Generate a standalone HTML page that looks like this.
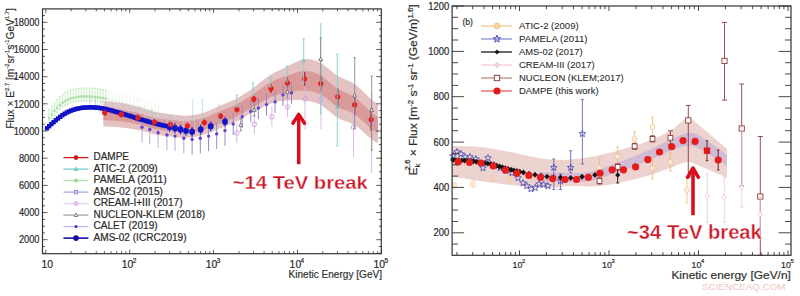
<!DOCTYPE html>
<html><head><meta charset="utf-8"><style>
html,body{margin:0;padding:0;background:#fff;}
svg{display:block;font-family:"Liberation Sans",sans-serif;}
</style></head><body>
<svg width="800" height="296" viewBox="0 0 800 296">
<rect width="800" height="296" fill="#fff"/>
<polygon points="103.3,100.8 104.7,101.0 106.3,101.2 108.1,101.4 110.2,101.6 112.3,101.9 114.6,102.1 116.8,102.4 119.1,102.7 121.2,103.1 123.3,103.4 125.4,103.8 127.5,104.3 129.6,104.7 131.7,105.2 133.8,105.7 135.9,106.2 138.0,106.8 140.1,107.3 142.1,108.0 144.2,108.7 146.2,109.3 148.3,110.0 150.3,110.7 152.4,111.2 154.4,111.7 156.4,112.2 158.4,112.6 160.5,112.9 162.5,113.2 164.5,113.5 166.5,113.8 168.5,114.1 170.6,114.3 172.7,114.6 174.8,114.8 176.9,115.1 179.0,115.3 181.1,115.5 183.3,115.7 185.4,115.7 187.5,115.7 189.6,115.5 191.7,115.3 193.8,115.0 195.9,114.6 198.0,114.2 200.1,113.7 202.2,113.1 204.3,112.5 206.4,111.8 208.4,111.0 210.4,110.1 212.4,109.3 214.4,108.3 216.4,107.4 218.5,106.5 220.5,105.6 222.5,104.7 224.6,103.9 226.6,103.0 228.7,102.2 230.8,101.3 232.8,100.4 234.9,99.4 237.0,98.3 239.1,97.1 241.2,95.9 243.3,94.5 245.4,93.2 247.5,91.8 249.7,90.4 251.8,88.8 253.9,87.2 256.0,85.7 258.2,84.0 260.3,82.3 262.5,80.7 264.6,79.0 266.8,77.5 268.9,76.0 271.0,74.6 273.1,73.4 275.2,72.3 277.2,71.3 279.2,70.4 281.3,69.4 283.3,68.3 285.4,67.3 287.5,66.3 289.6,65.2 291.8,64.1 293.9,63.0 296.1,61.9 298.3,60.9 300.5,60.0 302.6,59.3 304.7,58.9 306.8,58.9 308.8,59.1 310.8,59.4 312.8,59.9 314.8,60.5 316.7,61.3 318.8,62.1 320.8,63.1 322.9,64.4 325.0,65.9 327.1,67.5 329.2,69.3 331.3,71.1 333.5,72.9 335.6,74.5 337.7,75.9 339.8,77.0 341.9,78.1 344.1,79.0 346.2,79.9 348.3,80.7 350.4,81.7 352.5,82.8 354.6,84.2 356.8,85.8 359.0,87.7 361.3,89.8 363.5,92.0 365.7,94.1 367.7,96.1 369.6,97.8 371.2,99.3 372.6,100.4 373.7,101.3 374.8,102.0 375.6,102.6 376.4,103.0 377.0,103.4 377.5,103.7 378.0,104.0 378.0,143.1 377.5,142.8 377.0,142.6 376.4,142.3 375.6,141.9 374.8,141.4 373.7,140.8 372.6,140.0 371.2,138.9 369.6,137.6 367.7,136.0 365.7,134.2 363.5,132.2 361.3,130.2 359.0,128.3 356.8,126.5 354.6,125.1 352.5,123.9 350.4,122.9 348.3,122.1 346.2,121.4 344.1,120.7 341.9,119.9 339.8,119.0 337.7,117.9 335.6,116.5 333.5,114.9 331.3,113.1 329.2,111.3 327.1,109.5 325.0,107.9 322.9,106.4 320.8,105.1 318.8,104.1 316.7,103.3 314.8,102.5 312.8,101.9 310.8,101.4 308.8,101.1 306.8,100.9 304.7,100.7 302.6,100.3 300.5,100.0 298.3,100.0 296.1,100.0 293.9,100.1 291.8,100.3 289.6,100.5 287.5,100.6 285.4,100.7 283.3,100.8 281.3,100.9 279.2,101.2 277.2,101.6 275.2,102.1 273.1,102.7 271.0,103.4 268.9,104.2 266.8,105.2 264.6,106.2 262.5,107.3 260.3,108.4 258.2,109.6 256.0,110.7 253.9,111.7 251.8,112.8 249.7,113.9 247.5,115.2 245.4,116.5 243.3,117.8 241.2,119.1 239.1,120.3 237.0,121.4 234.9,122.4 232.8,123.3 230.8,124.2 228.7,125.0 226.6,125.8 224.6,126.6 222.5,127.4 220.5,128.2 218.5,129.0 216.4,129.9 214.4,130.8 212.4,131.6 210.4,132.5 208.4,133.2 206.4,134.0 204.3,134.6 202.2,135.2 200.1,135.7 198.0,136.2 195.9,136.7 193.8,137.1 191.7,137.4 189.6,137.6 187.5,137.8 185.4,137.9 183.3,137.8 181.1,137.7 179.0,137.6 176.9,137.3 174.8,137.1 172.7,136.8 170.6,136.6 168.5,136.4 166.5,136.1 164.5,135.9 162.5,135.6 160.5,135.3 158.4,135.0 156.4,134.6 154.4,134.2 152.4,133.7 150.3,133.2 148.3,132.6 146.2,132.1 144.2,131.5 142.1,131.0 140.1,130.5 138.0,130.1 135.9,129.7 133.8,129.3 131.7,128.9 129.6,128.6 127.5,128.3 125.4,128.0 123.3,127.7 121.2,127.5 119.1,127.3 116.8,127.1 114.6,127.0 112.3,126.9 110.2,126.8 108.1,126.7 106.3,126.6 104.7,126.5 103.3,126.5" fill="#d49c9c" fill-opacity="0.62"/>
<polygon points="103.3,107.7 104.7,107.9 106.3,108.0 108.1,108.2 110.2,108.4 112.3,108.6 114.6,108.8 116.8,109.0 119.1,109.3 121.2,109.6 123.3,110.0 125.4,110.3 127.5,110.7 129.6,111.1 131.7,111.6 133.8,112.0 135.9,112.5 138.0,113.0 140.1,113.5 142.1,114.1 144.2,114.8 146.2,115.4 148.3,116.1 150.3,116.7 152.4,117.2 154.4,117.7 156.4,118.0 158.4,118.4 160.5,118.7 162.5,119.0 164.5,119.2 166.5,119.5 168.5,119.7 170.6,119.9 172.7,120.1 174.8,120.3 176.9,120.6 179.0,120.8 181.1,120.9 183.3,121.0 185.4,121.0 187.5,120.9 189.6,120.7 191.7,120.5 193.8,120.1 195.9,119.7 198.0,119.2 200.1,118.7 202.2,118.2 204.3,117.6 206.4,116.9 208.4,116.2 210.4,115.3 212.4,114.5 214.4,113.6 216.4,112.7 218.5,111.9 220.5,111.0 222.5,110.2 224.6,109.4 226.6,108.6 228.7,107.8 230.8,106.9 232.8,106.0 234.9,105.1 237.0,104.0 239.1,102.9 241.2,101.7 243.3,100.4 245.4,99.1 247.5,97.7 249.7,96.4 251.8,94.9 253.9,93.5 256.0,92.1 258.2,90.6 260.3,89.0 262.5,87.5 264.6,86.0 266.8,84.6 268.9,83.3 271.0,82.0 273.1,81.0 275.2,80.0 277.2,79.1 279.2,78.3 281.3,77.6 283.3,76.9 285.4,76.2 287.5,75.5 289.6,74.8 291.8,74.0 293.9,73.2 296.1,72.5 298.3,71.8 300.5,71.3 302.6,71.0 304.7,70.8 306.8,70.9 308.8,71.2 310.8,71.6 312.8,72.1 314.8,72.8 316.7,73.6 318.8,74.5 320.8,75.6 322.9,76.9 325.0,78.4 327.1,80.2 329.2,82.0 331.3,83.9 333.5,85.7 335.6,87.3 337.7,88.8 339.8,90.0 341.9,91.1 344.1,92.0 346.2,92.9 348.3,93.7 350.4,94.7 352.5,95.8 354.6,97.2 356.8,98.8 359.0,100.7 361.3,102.8 363.5,105.0 365.7,107.1 367.7,109.1 369.6,110.8 371.2,112.3 372.6,113.4 373.7,114.3 374.8,115.0 375.6,115.6 376.4,116.0 377.0,116.4 377.5,116.7 378.0,117.0 378.0,133.1 377.5,132.8 377.0,132.5 376.4,132.2 375.6,131.8 374.8,131.3 373.7,130.6 372.6,129.8 371.2,128.7 369.6,127.4 367.7,125.7 365.7,123.8 363.5,121.8 361.3,119.7 359.0,117.8 356.8,116.0 354.6,114.4 352.5,113.2 350.4,112.2 348.3,111.3 346.2,110.6 344.1,109.8 341.9,109.0 339.8,108.0 337.7,106.9 335.6,105.6 333.5,104.0 331.3,102.4 329.2,100.6 327.1,98.9 325.0,97.3 322.9,95.9 320.8,94.7 318.8,93.8 316.7,92.9 314.8,92.2 312.8,91.7 310.8,91.3 308.8,91.0 306.8,90.8 304.7,90.8 302.6,90.6 300.5,90.6 298.3,90.8 296.1,91.1 293.9,91.5 291.8,91.9 289.6,92.3 287.5,92.7 285.4,93.1 283.3,93.4 281.3,93.8 279.2,94.2 277.2,94.8 275.2,95.4 273.1,96.2 271.0,97.0 268.9,98.0 266.8,99.0 264.6,100.2 262.5,101.5 260.3,102.7 258.2,104.0 256.0,105.3 253.9,106.5 251.8,107.6 249.7,108.9 247.5,110.2 245.4,111.5 243.3,112.8 241.2,114.1 239.1,115.3 237.0,116.4 234.9,117.4 232.8,118.3 230.8,119.2 228.7,120.0 226.6,120.8 224.6,121.6 222.5,122.4 220.5,123.2 218.5,124.0 216.4,124.9 214.4,125.8 212.4,126.6 210.4,127.5 208.4,128.2 206.4,129.0 204.3,129.6 202.2,130.2 200.1,130.7 198.0,131.2 195.9,131.6 193.8,132.0 191.7,132.3 189.6,132.5 187.5,132.7 185.4,132.7 183.3,132.7 181.1,132.5 179.0,132.3 176.9,132.1 174.8,131.8 172.7,131.6 170.6,131.3 168.5,131.1 166.5,130.8 164.5,130.5 162.5,130.2 160.5,129.9 158.4,129.6 156.4,129.2 154.4,128.7 152.4,128.2 150.3,127.7 148.3,127.1 146.2,126.5 144.2,125.9 142.1,125.4 140.1,124.8 138.0,124.3 135.9,123.9 133.8,123.5 131.7,123.1 129.6,122.7 127.5,122.4 125.4,122.0 123.3,121.7 121.2,121.5 119.1,121.2 116.8,121.0 114.6,120.8 112.3,120.7 110.2,120.5 108.1,120.4 106.3,120.3 104.7,120.2 103.3,120.1" fill="#cc6464" fill-opacity="0.42"/>
<g opacity="1.00">
<line x1="49.0" y1="109.5" x2="49.0" y2="122.5" stroke="#c2e8bb" stroke-width="0.90"/>
<line x1="47.9" y1="109.5" x2="50.1" y2="109.5" stroke="#c2e8bb" stroke-width="0.90"/>
<line x1="47.9" y1="122.5" x2="50.1" y2="122.5" stroke="#c2e8bb" stroke-width="0.90"/>
<circle cx="49.0" cy="118.0" r="1.40" fill="#b0dea8" stroke="none" stroke-width="0.00"/>
</g>
<g opacity="1.00">
<line x1="51.7" y1="105.9" x2="51.7" y2="118.9" stroke="#c2e8bb" stroke-width="0.90"/>
<line x1="50.6" y1="105.9" x2="52.8" y2="105.9" stroke="#c2e8bb" stroke-width="0.90"/>
<line x1="50.6" y1="118.9" x2="52.8" y2="118.9" stroke="#c2e8bb" stroke-width="0.90"/>
<circle cx="51.7" cy="114.4" r="1.40" fill="#b0dea8" stroke="none" stroke-width="0.00"/>
</g>
<g opacity="1.00">
<line x1="54.4" y1="102.3" x2="54.4" y2="115.3" stroke="#c2e8bb" stroke-width="0.90"/>
<line x1="53.3" y1="102.3" x2="55.5" y2="102.3" stroke="#c2e8bb" stroke-width="0.90"/>
<line x1="53.3" y1="115.3" x2="55.5" y2="115.3" stroke="#c2e8bb" stroke-width="0.90"/>
<circle cx="54.4" cy="110.8" r="1.40" fill="#b0dea8" stroke="none" stroke-width="0.00"/>
</g>
<g opacity="1.00">
<line x1="57.1" y1="99.4" x2="57.1" y2="112.4" stroke="#c2e8bb" stroke-width="0.90"/>
<line x1="56.0" y1="99.4" x2="58.2" y2="99.4" stroke="#c2e8bb" stroke-width="0.90"/>
<line x1="56.0" y1="112.4" x2="58.2" y2="112.4" stroke="#c2e8bb" stroke-width="0.90"/>
<circle cx="57.1" cy="107.9" r="1.40" fill="#b0dea8" stroke="none" stroke-width="0.00"/>
</g>
<g opacity="1.00">
<line x1="59.8" y1="96.7" x2="59.8" y2="109.7" stroke="#c2e8bb" stroke-width="0.90"/>
<line x1="58.7" y1="96.7" x2="60.9" y2="96.7" stroke="#c2e8bb" stroke-width="0.90"/>
<line x1="58.7" y1="109.7" x2="60.9" y2="109.7" stroke="#c2e8bb" stroke-width="0.90"/>
<circle cx="59.8" cy="105.2" r="1.40" fill="#b0dea8" stroke="none" stroke-width="0.00"/>
</g>
<g opacity="1.00">
<line x1="62.5" y1="94.2" x2="62.5" y2="107.2" stroke="#c2e8bb" stroke-width="0.90"/>
<line x1="61.4" y1="94.2" x2="63.6" y2="94.2" stroke="#c2e8bb" stroke-width="0.90"/>
<line x1="61.4" y1="107.2" x2="63.6" y2="107.2" stroke="#c2e8bb" stroke-width="0.90"/>
<circle cx="62.5" cy="102.7" r="1.40" fill="#b0dea8" stroke="none" stroke-width="0.00"/>
</g>
<g opacity="1.00">
<line x1="65.2" y1="92.7" x2="65.2" y2="105.7" stroke="#c2e8bb" stroke-width="0.90"/>
<line x1="64.1" y1="92.7" x2="66.3" y2="92.7" stroke="#c2e8bb" stroke-width="0.90"/>
<line x1="64.1" y1="105.7" x2="66.3" y2="105.7" stroke="#c2e8bb" stroke-width="0.90"/>
<circle cx="65.2" cy="101.2" r="1.40" fill="#b0dea8" stroke="none" stroke-width="0.00"/>
</g>
<g opacity="1.00">
<line x1="67.9" y1="91.2" x2="67.9" y2="104.2" stroke="#c2e8bb" stroke-width="0.90"/>
<line x1="66.8" y1="91.2" x2="69.0" y2="91.2" stroke="#c2e8bb" stroke-width="0.90"/>
<line x1="66.8" y1="104.2" x2="69.0" y2="104.2" stroke="#c2e8bb" stroke-width="0.90"/>
<circle cx="67.9" cy="99.7" r="1.40" fill="#b0dea8" stroke="none" stroke-width="0.00"/>
</g>
<g opacity="1.00">
<line x1="70.6" y1="89.9" x2="70.6" y2="102.9" stroke="#c2e8bb" stroke-width="0.90"/>
<line x1="69.5" y1="89.9" x2="71.7" y2="89.9" stroke="#c2e8bb" stroke-width="0.90"/>
<line x1="69.5" y1="102.9" x2="71.7" y2="102.9" stroke="#c2e8bb" stroke-width="0.90"/>
<circle cx="70.6" cy="98.4" r="1.40" fill="#b0dea8" stroke="none" stroke-width="0.00"/>
</g>
<g opacity="1.00">
<line x1="73.3" y1="89.3" x2="73.3" y2="102.3" stroke="#c2e8bb" stroke-width="0.90"/>
<line x1="72.2" y1="89.3" x2="74.4" y2="89.3" stroke="#c2e8bb" stroke-width="0.90"/>
<line x1="72.2" y1="102.3" x2="74.4" y2="102.3" stroke="#c2e8bb" stroke-width="0.90"/>
<circle cx="73.3" cy="97.8" r="1.40" fill="#b0dea8" stroke="none" stroke-width="0.00"/>
</g>
<g opacity="1.00">
<line x1="76.0" y1="88.8" x2="76.0" y2="101.8" stroke="#c2e8bb" stroke-width="0.90"/>
<line x1="74.9" y1="88.8" x2="77.1" y2="88.8" stroke="#c2e8bb" stroke-width="0.90"/>
<line x1="74.9" y1="101.8" x2="77.1" y2="101.8" stroke="#c2e8bb" stroke-width="0.90"/>
<circle cx="76.0" cy="97.3" r="1.40" fill="#b0dea8" stroke="none" stroke-width="0.00"/>
</g>
<g opacity="1.00">
<line x1="78.7" y1="88.3" x2="78.7" y2="101.3" stroke="#c2e8bb" stroke-width="0.90"/>
<line x1="77.6" y1="88.3" x2="79.8" y2="88.3" stroke="#c2e8bb" stroke-width="0.90"/>
<line x1="77.6" y1="101.3" x2="79.8" y2="101.3" stroke="#c2e8bb" stroke-width="0.90"/>
<circle cx="78.7" cy="96.8" r="1.40" fill="#b0dea8" stroke="none" stroke-width="0.00"/>
</g>
<g opacity="1.00">
<line x1="81.4" y1="88.0" x2="81.4" y2="101.0" stroke="#c2e8bb" stroke-width="0.90"/>
<line x1="80.3" y1="88.0" x2="82.5" y2="88.0" stroke="#c2e8bb" stroke-width="0.90"/>
<line x1="80.3" y1="101.0" x2="82.5" y2="101.0" stroke="#c2e8bb" stroke-width="0.90"/>
<circle cx="81.4" cy="96.5" r="1.40" fill="#b0dea8" stroke="none" stroke-width="0.00"/>
</g>
<g opacity="1.00">
<line x1="84.1" y1="88.0" x2="84.1" y2="101.0" stroke="#c2e8bb" stroke-width="0.90"/>
<line x1="83.0" y1="88.0" x2="85.2" y2="88.0" stroke="#c2e8bb" stroke-width="0.90"/>
<line x1="83.0" y1="101.0" x2="85.2" y2="101.0" stroke="#c2e8bb" stroke-width="0.90"/>
<circle cx="84.1" cy="96.5" r="1.40" fill="#b0dea8" stroke="none" stroke-width="0.00"/>
</g>
<g opacity="1.00">
<line x1="86.8" y1="88.0" x2="86.8" y2="101.0" stroke="#c2e8bb" stroke-width="0.90"/>
<line x1="85.7" y1="88.0" x2="87.9" y2="88.0" stroke="#c2e8bb" stroke-width="0.90"/>
<line x1="85.7" y1="101.0" x2="87.9" y2="101.0" stroke="#c2e8bb" stroke-width="0.90"/>
<circle cx="86.8" cy="96.5" r="1.40" fill="#b0dea8" stroke="none" stroke-width="0.00"/>
</g>
<g opacity="1.00">
<line x1="89.5" y1="88.0" x2="89.5" y2="101.0" stroke="#c2e8bb" stroke-width="0.90"/>
<line x1="88.4" y1="88.0" x2="90.6" y2="88.0" stroke="#c2e8bb" stroke-width="0.90"/>
<line x1="88.4" y1="101.0" x2="90.6" y2="101.0" stroke="#c2e8bb" stroke-width="0.90"/>
<circle cx="89.5" cy="96.5" r="1.40" fill="#b0dea8" stroke="none" stroke-width="0.00"/>
</g>
<g opacity="1.00">
<line x1="92.2" y1="88.2" x2="92.2" y2="101.2" stroke="#c2e8bb" stroke-width="0.90"/>
<line x1="91.1" y1="88.2" x2="93.3" y2="88.2" stroke="#c2e8bb" stroke-width="0.90"/>
<line x1="91.1" y1="101.2" x2="93.3" y2="101.2" stroke="#c2e8bb" stroke-width="0.90"/>
<circle cx="92.2" cy="96.7" r="1.40" fill="#b0dea8" stroke="none" stroke-width="0.00"/>
</g>
<g opacity="1.00">
<line x1="94.9" y1="88.5" x2="94.9" y2="101.5" stroke="#c2e8bb" stroke-width="0.90"/>
<line x1="93.8" y1="88.5" x2="96.0" y2="88.5" stroke="#c2e8bb" stroke-width="0.90"/>
<line x1="93.8" y1="101.5" x2="96.0" y2="101.5" stroke="#c2e8bb" stroke-width="0.90"/>
<circle cx="94.9" cy="97.0" r="1.40" fill="#b0dea8" stroke="none" stroke-width="0.00"/>
</g>
<g opacity="1.00">
<line x1="97.6" y1="88.8" x2="97.6" y2="101.8" stroke="#c2e8bb" stroke-width="0.90"/>
<line x1="96.5" y1="88.8" x2="98.7" y2="88.8" stroke="#c2e8bb" stroke-width="0.90"/>
<line x1="96.5" y1="101.8" x2="98.7" y2="101.8" stroke="#c2e8bb" stroke-width="0.90"/>
<circle cx="97.6" cy="97.3" r="1.40" fill="#b0dea8" stroke="none" stroke-width="0.00"/>
</g>
<g opacity="1.00">
<line x1="100.3" y1="89.1" x2="100.3" y2="102.1" stroke="#c2e8bb" stroke-width="0.90"/>
<line x1="99.2" y1="89.1" x2="101.4" y2="89.1" stroke="#c2e8bb" stroke-width="0.90"/>
<line x1="99.2" y1="102.1" x2="101.4" y2="102.1" stroke="#c2e8bb" stroke-width="0.90"/>
<circle cx="100.3" cy="97.6" r="1.40" fill="#b0dea8" stroke="none" stroke-width="0.00"/>
</g>
<g opacity="1.00">
<line x1="103.0" y1="89.6" x2="103.0" y2="102.6" stroke="#c2e8bb" stroke-width="0.90"/>
<line x1="101.9" y1="89.6" x2="104.1" y2="89.6" stroke="#c2e8bb" stroke-width="0.90"/>
<line x1="101.9" y1="102.6" x2="104.1" y2="102.6" stroke="#c2e8bb" stroke-width="0.90"/>
<circle cx="103.0" cy="98.1" r="1.40" fill="#b0dea8" stroke="none" stroke-width="0.00"/>
</g>
<g opacity="1.00">
<line x1="105.7" y1="90.1" x2="105.7" y2="103.1" stroke="#c2e8bb" stroke-width="0.90"/>
<line x1="104.6" y1="90.1" x2="106.8" y2="90.1" stroke="#c2e8bb" stroke-width="0.90"/>
<line x1="104.6" y1="103.1" x2="106.8" y2="103.1" stroke="#c2e8bb" stroke-width="0.90"/>
<circle cx="105.7" cy="98.6" r="1.40" fill="#b0dea8" stroke="none" stroke-width="0.00"/>
</g>
<g opacity="0.30">
<line x1="108.4" y1="90.7" x2="108.4" y2="103.7" stroke="#c2e8bb" stroke-width="0.90"/>
<line x1="107.3" y1="90.7" x2="109.5" y2="90.7" stroke="#c2e8bb" stroke-width="0.90"/>
<line x1="107.3" y1="103.7" x2="109.5" y2="103.7" stroke="#c2e8bb" stroke-width="0.90"/>
<circle cx="108.4" cy="99.2" r="1.40" fill="#b0dea8" stroke="none" stroke-width="0.00"/>
</g>
<g opacity="0.30">
<line x1="112.0" y1="91.5" x2="112.0" y2="104.5" stroke="#c2e8bb" stroke-width="0.90"/>
<line x1="110.9" y1="91.5" x2="113.1" y2="91.5" stroke="#c2e8bb" stroke-width="0.90"/>
<line x1="110.9" y1="104.5" x2="113.1" y2="104.5" stroke="#c2e8bb" stroke-width="0.90"/>
<circle cx="112.0" cy="100.0" r="1.40" fill="#b0dea8" stroke="none" stroke-width="0.00"/>
</g>
<g opacity="0.30">
<line x1="115.6" y1="92.4" x2="115.6" y2="105.4" stroke="#c2e8bb" stroke-width="0.90"/>
<line x1="114.5" y1="92.4" x2="116.7" y2="92.4" stroke="#c2e8bb" stroke-width="0.90"/>
<line x1="114.5" y1="105.4" x2="116.7" y2="105.4" stroke="#c2e8bb" stroke-width="0.90"/>
<circle cx="115.6" cy="100.9" r="1.40" fill="#b0dea8" stroke="none" stroke-width="0.00"/>
</g>
<g opacity="0.30">
<line x1="119.2" y1="93.3" x2="119.2" y2="106.3" stroke="#c2e8bb" stroke-width="0.90"/>
<line x1="118.1" y1="93.3" x2="120.3" y2="93.3" stroke="#c2e8bb" stroke-width="0.90"/>
<line x1="118.1" y1="106.3" x2="120.3" y2="106.3" stroke="#c2e8bb" stroke-width="0.90"/>
<circle cx="119.2" cy="101.8" r="1.40" fill="#b0dea8" stroke="none" stroke-width="0.00"/>
</g>
<g opacity="0.30">
<line x1="122.8" y1="94.2" x2="122.8" y2="107.2" stroke="#c2e8bb" stroke-width="0.90"/>
<line x1="121.7" y1="94.2" x2="123.9" y2="94.2" stroke="#c2e8bb" stroke-width="0.90"/>
<line x1="121.7" y1="107.2" x2="123.9" y2="107.2" stroke="#c2e8bb" stroke-width="0.90"/>
<circle cx="122.8" cy="102.7" r="1.40" fill="#b0dea8" stroke="none" stroke-width="0.00"/>
</g>
<g opacity="0.30">
<line x1="126.4" y1="95.1" x2="126.4" y2="108.1" stroke="#c2e8bb" stroke-width="0.90"/>
<line x1="125.3" y1="95.1" x2="127.5" y2="95.1" stroke="#c2e8bb" stroke-width="0.90"/>
<line x1="125.3" y1="108.1" x2="127.5" y2="108.1" stroke="#c2e8bb" stroke-width="0.90"/>
<circle cx="126.4" cy="103.6" r="1.40" fill="#b0dea8" stroke="none" stroke-width="0.00"/>
</g>
<g opacity="0.30">
<line x1="130.0" y1="96.0" x2="130.0" y2="109.0" stroke="#c2e8bb" stroke-width="0.90"/>
<line x1="128.9" y1="96.0" x2="131.1" y2="96.0" stroke="#c2e8bb" stroke-width="0.90"/>
<line x1="128.9" y1="109.0" x2="131.1" y2="109.0" stroke="#c2e8bb" stroke-width="0.90"/>
<circle cx="130.0" cy="104.5" r="1.40" fill="#b0dea8" stroke="none" stroke-width="0.00"/>
</g>
<g opacity="0.30">
<line x1="133.6" y1="97.1" x2="133.6" y2="110.1" stroke="#c2e8bb" stroke-width="0.90"/>
<line x1="132.5" y1="97.1" x2="134.7" y2="97.1" stroke="#c2e8bb" stroke-width="0.90"/>
<line x1="132.5" y1="110.1" x2="134.7" y2="110.1" stroke="#c2e8bb" stroke-width="0.90"/>
<circle cx="133.6" cy="105.6" r="1.40" fill="#b0dea8" stroke="none" stroke-width="0.00"/>
</g>
<g opacity="0.30">
<line x1="137.2" y1="98.2" x2="137.2" y2="111.2" stroke="#c2e8bb" stroke-width="0.90"/>
<line x1="136.1" y1="98.2" x2="138.3" y2="98.2" stroke="#c2e8bb" stroke-width="0.90"/>
<line x1="136.1" y1="111.2" x2="138.3" y2="111.2" stroke="#c2e8bb" stroke-width="0.90"/>
<circle cx="137.2" cy="106.7" r="1.40" fill="#b0dea8" stroke="none" stroke-width="0.00"/>
</g>
<g opacity="0.30">
<line x1="140.8" y1="99.3" x2="140.8" y2="112.3" stroke="#c2e8bb" stroke-width="0.90"/>
<line x1="139.7" y1="99.3" x2="141.9" y2="99.3" stroke="#c2e8bb" stroke-width="0.90"/>
<line x1="139.7" y1="112.3" x2="141.9" y2="112.3" stroke="#c2e8bb" stroke-width="0.90"/>
<circle cx="140.8" cy="107.8" r="1.40" fill="#b0dea8" stroke="none" stroke-width="0.00"/>
</g>
<g opacity="0.30">
<line x1="144.4" y1="100.5" x2="144.4" y2="113.5" stroke="#c2e8bb" stroke-width="0.90"/>
<line x1="143.3" y1="100.5" x2="145.5" y2="100.5" stroke="#c2e8bb" stroke-width="0.90"/>
<line x1="143.3" y1="113.5" x2="145.5" y2="113.5" stroke="#c2e8bb" stroke-width="0.90"/>
<circle cx="144.4" cy="109.0" r="1.40" fill="#b0dea8" stroke="none" stroke-width="0.00"/>
</g>
<g opacity="0.30">
<line x1="148.0" y1="101.8" x2="148.0" y2="114.8" stroke="#c2e8bb" stroke-width="0.90"/>
<line x1="146.9" y1="101.8" x2="149.1" y2="101.8" stroke="#c2e8bb" stroke-width="0.90"/>
<line x1="146.9" y1="114.8" x2="149.1" y2="114.8" stroke="#c2e8bb" stroke-width="0.90"/>
<circle cx="148.0" cy="110.3" r="1.40" fill="#b0dea8" stroke="none" stroke-width="0.00"/>
</g>
<g opacity="0.30">
<line x1="151.6" y1="103.1" x2="151.6" y2="116.1" stroke="#c2e8bb" stroke-width="0.90"/>
<line x1="150.5" y1="103.1" x2="152.7" y2="103.1" stroke="#c2e8bb" stroke-width="0.90"/>
<line x1="150.5" y1="116.1" x2="152.7" y2="116.1" stroke="#c2e8bb" stroke-width="0.90"/>
<circle cx="151.6" cy="111.6" r="1.40" fill="#b0dea8" stroke="none" stroke-width="0.00"/>
</g>
<g opacity="0.30">
<line x1="155.2" y1="104.3" x2="155.2" y2="117.3" stroke="#c2e8bb" stroke-width="0.90"/>
<line x1="154.1" y1="104.3" x2="156.3" y2="104.3" stroke="#c2e8bb" stroke-width="0.90"/>
<line x1="154.1" y1="117.3" x2="156.3" y2="117.3" stroke="#c2e8bb" stroke-width="0.90"/>
<circle cx="155.2" cy="112.8" r="1.40" fill="#b0dea8" stroke="none" stroke-width="0.00"/>
</g>
<g opacity="0.30">
<line x1="158.8" y1="105.6" x2="158.8" y2="118.6" stroke="#c2e8bb" stroke-width="0.90"/>
<line x1="157.7" y1="105.6" x2="159.9" y2="105.6" stroke="#c2e8bb" stroke-width="0.90"/>
<line x1="157.7" y1="118.6" x2="159.9" y2="118.6" stroke="#c2e8bb" stroke-width="0.90"/>
<circle cx="158.8" cy="114.1" r="1.40" fill="#b0dea8" stroke="none" stroke-width="0.00"/>
</g>
<line x1="90.0" y1="98.0" x2="90.0" y2="110.0" stroke="#c3c3e8" stroke-width="0.80"/>
<line x1="95.5" y1="98.8" x2="95.5" y2="110.8" stroke="#c3c3e8" stroke-width="0.80"/>
<line x1="101.0" y1="99.7" x2="101.0" y2="111.7" stroke="#c3c3e8" stroke-width="0.80"/>
<line x1="106.5" y1="100.5" x2="106.5" y2="112.5" stroke="#c3c3e8" stroke-width="0.80"/>
<line x1="112.0" y1="101.3" x2="112.0" y2="113.3" stroke="#c3c3e8" stroke-width="0.80"/>
<line x1="117.5" y1="102.1" x2="117.5" y2="114.1" stroke="#c3c3e8" stroke-width="0.80"/>
<line x1="123.0" y1="103.2" x2="123.0" y2="115.2" stroke="#c3c3e8" stroke-width="0.80"/>
<line x1="128.5" y1="104.6" x2="128.5" y2="116.6" stroke="#c3c3e8" stroke-width="0.80"/>
<line x1="134.0" y1="106.0" x2="134.0" y2="118.0" stroke="#c3c3e8" stroke-width="0.80"/>
<line x1="139.5" y1="107.4" x2="139.5" y2="119.4" stroke="#c3c3e8" stroke-width="0.80"/>
<line x1="145.0" y1="108.8" x2="145.0" y2="120.8" stroke="#c3c3e8" stroke-width="0.80"/>
<line x1="150.5" y1="110.1" x2="150.5" y2="122.1" stroke="#c3c3e8" stroke-width="0.80"/>
<line x1="156.0" y1="111.4" x2="156.0" y2="123.4" stroke="#c3c3e8" stroke-width="0.80"/>
<line x1="161.5" y1="112.8" x2="161.5" y2="124.8" stroke="#c3c3e8" stroke-width="0.80"/>
<line x1="167.0" y1="114.1" x2="167.0" y2="126.1" stroke="#c3c3e8" stroke-width="0.80"/>
<line x1="172.5" y1="115.4" x2="172.5" y2="127.4" stroke="#c3c3e8" stroke-width="0.80"/>
<line x1="178.0" y1="116.2" x2="178.0" y2="128.2" stroke="#c3c3e8" stroke-width="0.80"/>
<line x1="183.5" y1="116.7" x2="183.5" y2="128.7" stroke="#c3c3e8" stroke-width="0.80"/>
<line x1="189.0" y1="117.1" x2="189.0" y2="129.1" stroke="#c3c3e8" stroke-width="0.80"/>
<line x1="194.5" y1="117.6" x2="194.5" y2="129.6" stroke="#c3c3e8" stroke-width="0.80"/>
<line x1="200.0" y1="118.0" x2="200.0" y2="130.0" stroke="#c3c3e8" stroke-width="0.80"/>
<line x1="142.0" y1="116.3" x2="142.0" y2="142.3" stroke="#b4acd8" stroke-width="1.00"/>
<circle cx="142.0" cy="127.3" r="1.70" fill="#6a3fd0" stroke="none" stroke-width="0.00"/>
<line x1="149.8" y1="118.5" x2="149.8" y2="144.5" stroke="#b4acd8" stroke-width="1.00"/>
<circle cx="149.8" cy="129.5" r="1.70" fill="#6a3fd0" stroke="none" stroke-width="0.00"/>
<line x1="158.1" y1="121.8" x2="158.1" y2="147.8" stroke="#b4acd8" stroke-width="1.00"/>
<circle cx="158.1" cy="132.8" r="1.70" fill="#6a3fd0" stroke="none" stroke-width="0.00"/>
<line x1="166.9" y1="124.0" x2="166.9" y2="150.0" stroke="#b4acd8" stroke-width="1.00"/>
<circle cx="166.9" cy="135.0" r="1.70" fill="#6a3fd0" stroke="none" stroke-width="0.00"/>
<line x1="175.0" y1="125.1" x2="175.0" y2="151.1" stroke="#b4acd8" stroke-width="1.00"/>
<circle cx="175.0" cy="136.1" r="1.70" fill="#6a3fd0" stroke="none" stroke-width="0.00"/>
<line x1="183.8" y1="127.3" x2="183.8" y2="153.3" stroke="#b4acd8" stroke-width="1.00"/>
<circle cx="183.8" cy="138.3" r="1.70" fill="#6a3fd0" stroke="none" stroke-width="0.00"/>
<line x1="192.1" y1="128.4" x2="192.1" y2="154.4" stroke="#9488cc" stroke-width="1.00"/>
<circle cx="192.1" cy="139.4" r="1.70" fill="#6a3fd0" stroke="none" stroke-width="0.00"/>
<line x1="200.3" y1="127.3" x2="200.3" y2="153.3" stroke="#9488cc" stroke-width="1.00"/>
<circle cx="200.3" cy="138.3" r="1.70" fill="#6a3fd0" stroke="none" stroke-width="0.00"/>
<line x1="208.6" y1="125.1" x2="208.6" y2="151.1" stroke="#9488cc" stroke-width="1.00"/>
<circle cx="208.6" cy="136.1" r="1.70" fill="#6a3fd0" stroke="none" stroke-width="0.00"/>
<line x1="216.7" y1="122.9" x2="216.7" y2="148.9" stroke="#9488cc" stroke-width="1.00"/>
<circle cx="216.7" cy="133.9" r="1.70" fill="#6a3fd0" stroke="none" stroke-width="0.00"/>
<line x1="225.0" y1="119.6" x2="225.0" y2="145.6" stroke="#9488cc" stroke-width="1.00"/>
<circle cx="225.0" cy="130.6" r="1.70" fill="#6a3fd0" stroke="none" stroke-width="0.00"/>
<line x1="233.2" y1="113.0" x2="233.2" y2="135.0" stroke="#9488cc" stroke-width="1.00"/>
<circle cx="233.2" cy="124.0" r="1.70" fill="#6a3fd0" stroke="none" stroke-width="0.00"/>
<line x1="242.2" y1="105.8" x2="242.2" y2="127.8" stroke="#9488cc" stroke-width="1.00"/>
<circle cx="242.2" cy="116.8" r="1.70" fill="#6a3fd0" stroke="none" stroke-width="0.00"/>
<line x1="250.8" y1="100.4" x2="250.8" y2="122.4" stroke="#9488cc" stroke-width="1.00"/>
<circle cx="250.8" cy="111.4" r="1.70" fill="#6a3fd0" stroke="none" stroke-width="0.00"/>
<line x1="258.4" y1="97.1" x2="258.4" y2="119.1" stroke="#9488cc" stroke-width="1.00"/>
<circle cx="258.4" cy="108.1" r="1.70" fill="#6a3fd0" stroke="none" stroke-width="0.00"/>
<line x1="266.5" y1="93.6" x2="266.5" y2="115.6" stroke="#9488cc" stroke-width="1.00"/>
<circle cx="266.5" cy="104.6" r="1.70" fill="#6a3fd0" stroke="none" stroke-width="0.00"/>
<line x1="275.1" y1="90.9" x2="275.1" y2="112.9" stroke="#9488cc" stroke-width="1.00"/>
<circle cx="275.1" cy="101.9" r="1.70" fill="#6a3fd0" stroke="none" stroke-width="0.00"/>
<line x1="283.0" y1="83.9" x2="283.0" y2="105.9" stroke="#9488cc" stroke-width="1.00"/>
<circle cx="283.0" cy="94.9" r="1.70" fill="#6a3fd0" stroke="none" stroke-width="0.00"/>
<line x1="291.5" y1="81.9" x2="291.5" y2="103.9" stroke="#9488cc" stroke-width="1.00"/>
<circle cx="291.5" cy="92.9" r="1.70" fill="#6a3fd0" stroke="none" stroke-width="0.00"/>
<line x1="236.8" y1="123.0" x2="236.8" y2="143.0" stroke="#dcb0e6" stroke-width="0.90"/>
<circle cx="236.8" cy="133.0" r="2.30" fill="none" stroke="#cf9ee0" stroke-width="0.90"/>
<line x1="254.3" y1="114.3" x2="254.3" y2="134.3" stroke="#dcb0e6" stroke-width="0.90"/>
<circle cx="254.3" cy="124.3" r="2.30" fill="none" stroke="#cf9ee0" stroke-width="0.90"/>
<line x1="271.9" y1="106.8" x2="271.9" y2="126.8" stroke="#dcb0e6" stroke-width="0.90"/>
<circle cx="271.9" cy="116.8" r="2.30" fill="none" stroke="#cf9ee0" stroke-width="0.90"/>
<line x1="287.5" y1="97.0" x2="287.5" y2="117.0" stroke="#dcb0e6" stroke-width="0.90"/>
<circle cx="287.5" cy="107.0" r="2.30" fill="none" stroke="#cf9ee0" stroke-width="0.90"/>
<line x1="305.0" y1="69.0" x2="305.0" y2="129.0" stroke="#dcb0e6" stroke-width="0.90"/>
<circle cx="305.0" cy="99.0" r="2.30" fill="none" stroke="#cf9ee0" stroke-width="0.90"/>
<line x1="321.0" y1="69.0" x2="321.0" y2="129.0" stroke="#dcb0e6" stroke-width="0.90"/>
<circle cx="321.0" cy="99.0" r="2.30" fill="none" stroke="#cf9ee0" stroke-width="0.90"/>
<line x1="353.5" y1="97.3" x2="353.5" y2="157.3" stroke="#dcb0e6" stroke-width="0.90"/>
<circle cx="353.5" cy="127.3" r="2.30" fill="none" stroke="#cf9ee0" stroke-width="0.90"/>
<line x1="371.7" y1="93.2" x2="371.7" y2="173.2" stroke="#dcb0e6" stroke-width="0.90"/>
<circle cx="371.7" cy="123.2" r="2.30" fill="none" stroke="#cf9ee0" stroke-width="0.90"/>
<rect x="44.8" y="126.1" width="4.40" height="4.40" fill="#1212c8" stroke="none" stroke-width="0.00"/>
<rect x="47.0" y="124.0" width="4.40" height="4.40" fill="#1212c8" stroke="none" stroke-width="0.00"/>
<rect x="49.2" y="121.9" width="4.40" height="4.40" fill="#1212c8" stroke="none" stroke-width="0.00"/>
<rect x="51.4" y="120.0" width="4.40" height="4.40" fill="#1212c8" stroke="none" stroke-width="0.00"/>
<rect x="53.6" y="118.1" width="4.40" height="4.40" fill="#1212c8" stroke="none" stroke-width="0.00"/>
<rect x="55.8" y="116.3" width="4.40" height="4.40" fill="#1212c8" stroke="none" stroke-width="0.00"/>
<rect x="58.0" y="114.6" width="4.40" height="4.40" fill="#1212c8" stroke="none" stroke-width="0.00"/>
<rect x="60.2" y="113.0" width="4.40" height="4.40" fill="#1212c8" stroke="none" stroke-width="0.00"/>
<rect x="62.4" y="111.6" width="4.40" height="4.40" fill="#1212c8" stroke="none" stroke-width="0.00"/>
<rect x="64.6" y="110.3" width="4.40" height="4.40" fill="#1212c8" stroke="none" stroke-width="0.00"/>
<rect x="66.8" y="109.3" width="4.40" height="4.40" fill="#1212c8" stroke="none" stroke-width="0.00"/>
<rect x="69.0" y="108.4" width="4.40" height="4.40" fill="#1212c8" stroke="none" stroke-width="0.00"/>
<rect x="71.2" y="107.6" width="4.40" height="4.40" fill="#1212c8" stroke="none" stroke-width="0.00"/>
<rect x="73.4" y="106.9" width="4.40" height="4.40" fill="#1212c8" stroke="none" stroke-width="0.00"/>
<rect x="75.6" y="106.4" width="4.40" height="4.40" fill="#1212c8" stroke="none" stroke-width="0.00"/>
<rect x="77.8" y="106.0" width="4.40" height="4.40" fill="#1212c8" stroke="none" stroke-width="0.00"/>
<rect x="80.0" y="105.6" width="4.40" height="4.40" fill="#1212c8" stroke="none" stroke-width="0.00"/>
<rect x="82.2" y="105.4" width="4.40" height="4.40" fill="#1212c8" stroke="none" stroke-width="0.00"/>
<rect x="84.4" y="105.3" width="4.40" height="4.40" fill="#1212c8" stroke="none" stroke-width="0.00"/>
<rect x="86.6" y="105.2" width="4.40" height="4.40" fill="#1212c8" stroke="none" stroke-width="0.00"/>
<rect x="88.8" y="105.1" width="4.40" height="4.40" fill="#1212c8" stroke="none" stroke-width="0.00"/>
<rect x="91.0" y="105.2" width="4.40" height="4.40" fill="#1212c8" stroke="none" stroke-width="0.00"/>
<rect x="93.2" y="105.3" width="4.40" height="4.40" fill="#1212c8" stroke="none" stroke-width="0.00"/>
<rect x="95.4" y="105.5" width="4.40" height="4.40" fill="#1212c8" stroke="none" stroke-width="0.00"/>
<rect x="97.6" y="105.8" width="4.40" height="4.40" fill="#1212c8" stroke="none" stroke-width="0.00"/>
<rect x="99.8" y="106.1" width="4.40" height="4.40" fill="#1212c8" stroke="none" stroke-width="0.00"/>
<rect x="102.0" y="106.5" width="4.40" height="4.40" fill="#1212c8" stroke="none" stroke-width="0.00"/>
<rect x="104.2" y="107.0" width="4.40" height="4.40" fill="#1212c8" stroke="none" stroke-width="0.00"/>
<rect x="106.4" y="107.6" width="4.40" height="4.40" fill="#1212c8" stroke="none" stroke-width="0.00"/>
<rect x="108.6" y="108.1" width="4.40" height="4.40" fill="#1212c8" stroke="none" stroke-width="0.00"/>
<rect x="110.8" y="108.7" width="4.40" height="4.40" fill="#1212c8" stroke="none" stroke-width="0.00"/>
<rect x="113.0" y="109.4" width="4.40" height="4.40" fill="#1212c8" stroke="none" stroke-width="0.00"/>
<rect x="115.2" y="110.0" width="4.40" height="4.40" fill="#1212c8" stroke="none" stroke-width="0.00"/>
<rect x="117.4" y="110.7" width="4.40" height="4.40" fill="#1212c8" stroke="none" stroke-width="0.00"/>
<rect x="119.6" y="111.3" width="4.40" height="4.40" fill="#1212c8" stroke="none" stroke-width="0.00"/>
<rect x="121.8" y="112.0" width="4.40" height="4.40" fill="#1212c8" stroke="none" stroke-width="0.00"/>
<rect x="124.0" y="112.7" width="4.40" height="4.40" fill="#1212c8" stroke="none" stroke-width="0.00"/>
<rect x="126.2" y="113.3" width="4.40" height="4.40" fill="#1212c8" stroke="none" stroke-width="0.00"/>
<rect x="128.4" y="114.0" width="4.40" height="4.40" fill="#1212c8" stroke="none" stroke-width="0.00"/>
<rect x="130.6" y="114.7" width="4.40" height="4.40" fill="#1212c8" stroke="none" stroke-width="0.00"/>
<rect x="132.8" y="115.5" width="4.40" height="4.40" fill="#1212c8" stroke="none" stroke-width="0.00"/>
<rect x="135.0" y="116.2" width="4.40" height="4.40" fill="#1212c8" stroke="none" stroke-width="0.00"/>
<rect x="137.2" y="116.9" width="4.40" height="4.40" fill="#1212c8" stroke="none" stroke-width="0.00"/>
<rect x="139.4" y="117.5" width="4.40" height="4.40" fill="#1212c8" stroke="none" stroke-width="0.00"/>
<rect x="141.6" y="118.1" width="4.40" height="4.40" fill="#1212c8" stroke="none" stroke-width="0.00"/>
<rect x="143.8" y="118.7" width="4.40" height="4.40" fill="#1212c8" stroke="none" stroke-width="0.00"/>
<rect x="146.0" y="119.3" width="4.40" height="4.40" fill="#1212c8" stroke="none" stroke-width="0.00"/>
<rect x="148.2" y="119.9" width="4.40" height="4.40" fill="#1212c8" stroke="none" stroke-width="0.00"/>
<rect x="150.4" y="120.5" width="4.40" height="4.40" fill="#1212c8" stroke="none" stroke-width="0.00"/>
<rect x="152.6" y="121.1" width="4.40" height="4.40" fill="#1212c8" stroke="none" stroke-width="0.00"/>
<rect x="154.8" y="121.7" width="4.40" height="4.40" fill="#1212c8" stroke="none" stroke-width="0.00"/>
<rect x="157.0" y="122.3" width="4.40" height="4.40" fill="#1212c8" stroke="none" stroke-width="0.00"/>
<rect x="159.2" y="122.8" width="4.40" height="4.40" fill="#1212c8" stroke="none" stroke-width="0.00"/>
<rect x="161.4" y="123.3" width="4.40" height="4.40" fill="#1212c8" stroke="none" stroke-width="0.00"/>
<rect x="163.6" y="123.8" width="4.40" height="4.40" fill="#1212c8" stroke="none" stroke-width="0.00"/>
<line x1="169.5" y1="122.0" x2="169.5" y2="132.0" stroke="#2a2ad0" stroke-width="1.10"/>
<ellipse cx="169.5" cy="127.0" rx="2.9" ry="3.3" fill="#1515c8"/>
<line x1="175.0" y1="123.2" x2="175.0" y2="133.2" stroke="#2a2ad0" stroke-width="1.10"/>
<ellipse cx="175.0" cy="128.2" rx="2.9" ry="3.3" fill="#1515c8"/>
<line x1="180.5" y1="124.5" x2="180.5" y2="134.5" stroke="#2a2ad0" stroke-width="1.10"/>
<ellipse cx="180.5" cy="129.5" rx="2.9" ry="3.3" fill="#1515c8"/>
<line x1="186.0" y1="125.8" x2="186.0" y2="135.8" stroke="#2a2ad0" stroke-width="1.10"/>
<ellipse cx="186.0" cy="130.8" rx="2.9" ry="3.3" fill="#1515c8"/>
<line x1="192.1" y1="126.7" x2="192.1" y2="136.7" stroke="#2a2ad0" stroke-width="1.10"/>
<ellipse cx="192.1" cy="131.7" rx="2.9" ry="3.3" fill="#1515c8"/>
<line x1="200.7" y1="124.5" x2="200.7" y2="134.5" stroke="#2a2ad0" stroke-width="1.10"/>
<ellipse cx="200.7" cy="129.5" rx="2.9" ry="3.3" fill="#1515c8"/>
<line x1="210.8" y1="121.2" x2="210.8" y2="131.2" stroke="#2a2ad0" stroke-width="1.10"/>
<ellipse cx="210.8" cy="126.2" rx="2.9" ry="3.3" fill="#1515c8"/>
<line x1="225.0" y1="116.8" x2="225.0" y2="126.8" stroke="#2a2ad0" stroke-width="1.10"/>
<ellipse cx="225.0" cy="121.8" rx="2.9" ry="3.3" fill="#1515c8"/>
<line x1="104.7" y1="109.8" x2="104.7" y2="115.8" stroke="#9a1010" stroke-width="1.20"/>
<circle cx="104.7" cy="112.8" r="2.60" fill="#e41e1e" stroke="none" stroke-width="0.00"/>
<line x1="121.2" y1="111.4" x2="121.2" y2="117.4" stroke="#9a1010" stroke-width="1.20"/>
<circle cx="121.2" cy="114.4" r="2.60" fill="#e41e1e" stroke="none" stroke-width="0.00"/>
<line x1="138.0" y1="114.6" x2="138.0" y2="120.6" stroke="#9a1010" stroke-width="1.20"/>
<circle cx="138.0" cy="117.6" r="2.60" fill="#e41e1e" stroke="none" stroke-width="0.00"/>
<line x1="154.4" y1="119.2" x2="154.4" y2="125.2" stroke="#9a1010" stroke-width="1.20"/>
<circle cx="154.4" cy="122.2" r="2.60" fill="#e41e1e" stroke="none" stroke-width="0.00"/>
<line x1="170.6" y1="121.6" x2="170.6" y2="127.6" stroke="#9a1010" stroke-width="1.20"/>
<circle cx="170.6" cy="124.6" r="2.60" fill="#e41e1e" stroke="none" stroke-width="0.00"/>
<line x1="187.5" y1="122.8" x2="187.5" y2="128.8" stroke="#9a1010" stroke-width="1.20"/>
<circle cx="187.5" cy="125.8" r="2.60" fill="#e41e1e" stroke="none" stroke-width="0.00"/>
<line x1="204.3" y1="119.6" x2="204.3" y2="125.6" stroke="#9a1010" stroke-width="1.20"/>
<circle cx="204.3" cy="122.6" r="2.60" fill="#e41e1e" stroke="none" stroke-width="0.00"/>
<line x1="220.5" y1="113.2" x2="220.5" y2="119.2" stroke="#9a1010" stroke-width="1.20"/>
<circle cx="220.5" cy="116.2" r="2.60" fill="#e41e1e" stroke="none" stroke-width="0.00"/>
<line x1="237.0" y1="106.4" x2="237.0" y2="112.4" stroke="#9a1010" stroke-width="1.20"/>
<circle cx="237.0" cy="109.4" r="2.60" fill="#e41e1e" stroke="none" stroke-width="0.00"/>
<line x1="253.9" y1="95.9" x2="253.9" y2="102.5" stroke="#9a1010" stroke-width="1.20"/>
<circle cx="253.9" cy="99.2" r="2.60" fill="#e41e1e" stroke="none" stroke-width="0.00"/>
<line x1="271.0" y1="84.1" x2="271.0" y2="93.1" stroke="#9a1010" stroke-width="1.20"/>
<circle cx="271.0" cy="88.6" r="2.60" fill="#e41e1e" stroke="none" stroke-width="0.00"/>
<line x1="287.5" y1="77.2" x2="287.5" y2="88.4" stroke="#9a1010" stroke-width="1.20"/>
<circle cx="287.5" cy="82.8" r="2.60" fill="#e41e1e" stroke="none" stroke-width="0.00"/>
<line x1="304.7" y1="72.0" x2="304.7" y2="85.6" stroke="#9a1010" stroke-width="1.20"/>
<circle cx="304.7" cy="78.8" r="2.60" fill="#e41e1e" stroke="none" stroke-width="0.00"/>
<line x1="320.8" y1="75.6" x2="320.8" y2="91.6" stroke="#9a1010" stroke-width="1.20"/>
<circle cx="320.8" cy="83.6" r="2.60" fill="#e41e1e" stroke="none" stroke-width="0.00"/>
<line x1="337.7" y1="87.7" x2="337.7" y2="105.9" stroke="#9a1010" stroke-width="1.20"/>
<circle cx="337.7" cy="96.8" r="2.60" fill="#e41e1e" stroke="none" stroke-width="0.00"/>
<line x1="354.6" y1="94.5" x2="354.6" y2="115.1" stroke="#9a1010" stroke-width="1.20"/>
<circle cx="354.6" cy="104.8" r="2.60" fill="#e41e1e" stroke="none" stroke-width="0.00"/>
<line x1="371.2" y1="108.0" x2="371.2" y2="131.0" stroke="#9a1010" stroke-width="1.20"/>
<circle cx="371.2" cy="119.5" r="2.60" fill="#e41e1e" stroke="none" stroke-width="0.00"/>
<g opacity="0.45">
<line x1="152.0" y1="110.0" x2="152.0" y2="120.0" stroke="#7fd0d0" stroke-width="1.00"/>
<line x1="150.8" y1="110.0" x2="153.2" y2="110.0" stroke="#7fd0d0" stroke-width="1.00"/>
<line x1="150.8" y1="120.0" x2="153.2" y2="120.0" stroke="#7fd0d0" stroke-width="1.00"/>
</g>
<g opacity="0.45">
<line x1="170.6" y1="115.0" x2="170.6" y2="125.0" stroke="#7fd0d0" stroke-width="1.00"/>
<line x1="169.4" y1="115.0" x2="171.8" y2="115.0" stroke="#7fd0d0" stroke-width="1.00"/>
<line x1="169.4" y1="125.0" x2="171.8" y2="125.0" stroke="#7fd0d0" stroke-width="1.00"/>
</g>
<g opacity="0.45">
<line x1="192.6" y1="100.0" x2="192.6" y2="121.0" stroke="#7fd0d0" stroke-width="1.00"/>
<line x1="191.4" y1="100.0" x2="193.8" y2="100.0" stroke="#7fd0d0" stroke-width="1.00"/>
<line x1="191.4" y1="121.0" x2="193.8" y2="121.0" stroke="#7fd0d0" stroke-width="1.00"/>
</g>
<g opacity="0.45">
<line x1="202.4" y1="100.0" x2="202.4" y2="120.0" stroke="#7fd0d0" stroke-width="1.00"/>
<line x1="201.2" y1="100.0" x2="203.6" y2="100.0" stroke="#7fd0d0" stroke-width="1.00"/>
<line x1="201.2" y1="120.0" x2="203.6" y2="120.0" stroke="#7fd0d0" stroke-width="1.00"/>
</g>
<g opacity="0.45">
<line x1="218.9" y1="104.0" x2="218.9" y2="123.0" stroke="#7fd0d0" stroke-width="1.00"/>
<line x1="217.7" y1="104.0" x2="220.1" y2="104.0" stroke="#7fd0d0" stroke-width="1.00"/>
<line x1="217.7" y1="123.0" x2="220.1" y2="123.0" stroke="#7fd0d0" stroke-width="1.00"/>
</g>
<g opacity="0.90">
<line x1="236.8" y1="95.0" x2="236.8" y2="107.0" stroke="#7fd0d0" stroke-width="1.00"/>
<line x1="235.6" y1="95.0" x2="238.0" y2="95.0" stroke="#7fd0d0" stroke-width="1.00"/>
<line x1="235.6" y1="107.0" x2="238.0" y2="107.0" stroke="#7fd0d0" stroke-width="1.00"/>
</g>
<g opacity="0.90">
<line x1="253.0" y1="83.0" x2="253.0" y2="95.0" stroke="#7fd0d0" stroke-width="1.00"/>
<line x1="251.8" y1="83.0" x2="254.2" y2="83.0" stroke="#7fd0d0" stroke-width="1.00"/>
<line x1="251.8" y1="95.0" x2="254.2" y2="95.0" stroke="#7fd0d0" stroke-width="1.00"/>
</g>
<g opacity="0.90">
<line x1="270.5" y1="77.0" x2="270.5" y2="87.0" stroke="#7fd0d0" stroke-width="1.00"/>
<line x1="269.3" y1="77.0" x2="271.7" y2="77.0" stroke="#7fd0d0" stroke-width="1.00"/>
<line x1="269.3" y1="87.0" x2="271.7" y2="87.0" stroke="#7fd0d0" stroke-width="1.00"/>
</g>
<g opacity="0.90">
<line x1="287.0" y1="66.0" x2="287.0" y2="82.0" stroke="#7fd0d0" stroke-width="1.00"/>
<line x1="285.8" y1="66.0" x2="288.2" y2="66.0" stroke="#7fd0d0" stroke-width="1.00"/>
<line x1="285.8" y1="82.0" x2="288.2" y2="82.0" stroke="#7fd0d0" stroke-width="1.00"/>
</g>
<g opacity="0.90">
<line x1="303.7" y1="38.8" x2="303.7" y2="82.8" stroke="#7fd0d0" stroke-width="1.00"/>
<line x1="302.5" y1="38.8" x2="304.9" y2="38.8" stroke="#7fd0d0" stroke-width="1.00"/>
<line x1="302.5" y1="82.8" x2="304.9" y2="82.8" stroke="#7fd0d0" stroke-width="1.00"/>
<polygon points="303.7,59.2 302.2,61.9 305.2,61.9" fill="none" stroke="#5bbcbc" stroke-width="0.80"/>
</g>
<g opacity="0.90">
<line x1="320.7" y1="24.0" x2="320.7" y2="114.0" stroke="#7fd0d0" stroke-width="1.00"/>
<line x1="319.5" y1="24.0" x2="321.9" y2="24.0" stroke="#7fd0d0" stroke-width="1.00"/>
<line x1="319.5" y1="114.0" x2="321.9" y2="114.0" stroke="#7fd0d0" stroke-width="1.00"/>
<polygon points="320.7,57.4 319.2,60.1 322.2,60.1" fill="none" stroke="#5bbcbc" stroke-width="0.80"/>
</g>
<g opacity="0.90">
<line x1="337.3" y1="54.0" x2="337.3" y2="146.0" stroke="#7fd0d0" stroke-width="1.00"/>
<line x1="336.1" y1="54.0" x2="338.5" y2="54.0" stroke="#7fd0d0" stroke-width="1.00"/>
<line x1="336.1" y1="146.0" x2="338.5" y2="146.0" stroke="#7fd0d0" stroke-width="1.00"/>
<polygon points="337.3,105.4 335.8,108.1 338.8,108.1" fill="none" stroke="#5bbcbc" stroke-width="0.80"/>
</g>
<line x1="240.8" y1="118.9" x2="240.8" y2="130.9" stroke="#8a8a8a" stroke-width="0.90"/>
<line x1="239.6" y1="118.9" x2="242.0" y2="118.9" stroke="#8a8a8a" stroke-width="0.90"/>
<line x1="239.6" y1="130.9" x2="242.0" y2="130.9" stroke="#8a8a8a" stroke-width="0.90"/>
<polygon points="240.8,122.8 238.9,126.3 242.7,126.3" fill="white" stroke="#6f6f6f" stroke-width="0.90"/>
<line x1="254.3" y1="104.0" x2="254.3" y2="116.0" stroke="#8a8a8a" stroke-width="0.90"/>
<line x1="253.1" y1="104.0" x2="255.5" y2="104.0" stroke="#8a8a8a" stroke-width="0.90"/>
<line x1="253.1" y1="116.0" x2="255.5" y2="116.0" stroke="#8a8a8a" stroke-width="0.90"/>
<polygon points="254.3,107.9 252.4,111.4 256.2,111.4" fill="white" stroke="#6f6f6f" stroke-width="0.90"/>
<line x1="287.5" y1="86.0" x2="287.5" y2="98.0" stroke="#8a8a8a" stroke-width="0.90"/>
<line x1="286.3" y1="86.0" x2="288.7" y2="86.0" stroke="#8a8a8a" stroke-width="0.90"/>
<line x1="286.3" y1="98.0" x2="288.7" y2="98.0" stroke="#8a8a8a" stroke-width="0.90"/>
<polygon points="287.5,89.9 285.6,93.4 289.4,93.4" fill="white" stroke="#6f6f6f" stroke-width="0.90"/>
<line x1="320.7" y1="37.9" x2="320.7" y2="80.2" stroke="#8a8a8a" stroke-width="0.90"/>
<line x1="319.5" y1="37.9" x2="321.9" y2="37.9" stroke="#8a8a8a" stroke-width="0.90"/>
<line x1="319.5" y1="80.2" x2="321.9" y2="80.2" stroke="#8a8a8a" stroke-width="0.90"/>
<polygon points="320.7,57.1 318.8,60.6 322.6,60.6" fill="white" stroke="#6f6f6f" stroke-width="0.90"/>
<line x1="354.7" y1="57.6" x2="354.7" y2="128.6" stroke="#8a8a8a" stroke-width="0.90"/>
<line x1="353.5" y1="57.6" x2="355.9" y2="57.6" stroke="#8a8a8a" stroke-width="0.90"/>
<line x1="353.5" y1="128.6" x2="355.9" y2="128.6" stroke="#8a8a8a" stroke-width="0.90"/>
<polygon points="354.7,93.5 352.8,97.0 356.6,97.0" fill="white" stroke="#6f6f6f" stroke-width="0.90"/>
<line x1="371.7" y1="76.0" x2="371.7" y2="150.0" stroke="#8a8a8a" stroke-width="0.90"/>
<line x1="370.5" y1="76.0" x2="372.9" y2="76.0" stroke="#8a8a8a" stroke-width="0.90"/>
<line x1="370.5" y1="150.0" x2="372.9" y2="150.0" stroke="#8a8a8a" stroke-width="0.90"/>
<polygon points="371.7,107.9 369.8,111.4 373.6,111.4" fill="white" stroke="#6f6f6f" stroke-width="0.90"/>
<g stroke="#d80c1c" stroke-width="3.5" fill="none" stroke-linecap="round" stroke-linejoin="round">
<line x1="298.7" y1="116" x2="298.7" y2="164.2" stroke-linecap="butt"/>
<polyline points="292.9,123.2 298.7,114.4 304.5,123.2"/>
</g>
<text x="232.8" y="188.5" font-size="19.00" fill="#cc1424" text-anchor="start" font-weight="bold" stroke="#fff" stroke-width="0.35" paint-order="normal" textLength="135.0" lengthAdjust="spacingAndGlyphs">~14 TeV break</text>
<rect x="42.5" y="8.9" width="338.8" height="244.8" fill="none" stroke="#333" stroke-width="1.2"/>
<line x1="42.5" y1="253.3" x2="45.0" y2="253.3" stroke="#333" stroke-width="0.80"/>
<line x1="381.3" y1="253.3" x2="378.8" y2="253.3" stroke="#333" stroke-width="0.80"/>
<line x1="42.5" y1="246.5" x2="45.0" y2="246.5" stroke="#333" stroke-width="0.80"/>
<line x1="381.3" y1="246.5" x2="378.8" y2="246.5" stroke="#333" stroke-width="0.80"/>
<line x1="42.5" y1="239.7" x2="47.5" y2="239.7" stroke="#333" stroke-width="0.80"/>
<line x1="381.3" y1="239.7" x2="376.3" y2="239.7" stroke="#333" stroke-width="0.80"/>
<text x="39.5" y="243.4" font-size="10.90" fill="#2a2a2a" text-anchor="end" font-weight="normal"  textLength="20.6" lengthAdjust="spacingAndGlyphs" stroke="#2a2a2a" stroke-width="0.2">2000</text>
<line x1="42.5" y1="232.9" x2="45.0" y2="232.9" stroke="#333" stroke-width="0.80"/>
<line x1="381.3" y1="232.9" x2="378.8" y2="232.9" stroke="#333" stroke-width="0.80"/>
<line x1="42.5" y1="226.2" x2="45.0" y2="226.2" stroke="#333" stroke-width="0.80"/>
<line x1="381.3" y1="226.2" x2="378.8" y2="226.2" stroke="#333" stroke-width="0.80"/>
<line x1="42.5" y1="219.4" x2="45.0" y2="219.4" stroke="#333" stroke-width="0.80"/>
<line x1="381.3" y1="219.4" x2="378.8" y2="219.4" stroke="#333" stroke-width="0.80"/>
<line x1="42.5" y1="212.6" x2="47.5" y2="212.6" stroke="#333" stroke-width="0.80"/>
<line x1="381.3" y1="212.6" x2="376.3" y2="212.6" stroke="#333" stroke-width="0.80"/>
<text x="39.5" y="216.3" font-size="10.90" fill="#2a2a2a" text-anchor="end" font-weight="normal"  textLength="20.6" lengthAdjust="spacingAndGlyphs" stroke="#2a2a2a" stroke-width="0.2">4000</text>
<line x1="42.5" y1="205.8" x2="45.0" y2="205.8" stroke="#333" stroke-width="0.80"/>
<line x1="381.3" y1="205.8" x2="378.8" y2="205.8" stroke="#333" stroke-width="0.80"/>
<line x1="42.5" y1="199.0" x2="45.0" y2="199.0" stroke="#333" stroke-width="0.80"/>
<line x1="381.3" y1="199.0" x2="378.8" y2="199.0" stroke="#333" stroke-width="0.80"/>
<line x1="42.5" y1="192.2" x2="45.0" y2="192.2" stroke="#333" stroke-width="0.80"/>
<line x1="381.3" y1="192.2" x2="378.8" y2="192.2" stroke="#333" stroke-width="0.80"/>
<line x1="42.5" y1="185.4" x2="47.5" y2="185.4" stroke="#333" stroke-width="0.80"/>
<line x1="381.3" y1="185.4" x2="376.3" y2="185.4" stroke="#333" stroke-width="0.80"/>
<text x="39.5" y="189.1" font-size="10.90" fill="#2a2a2a" text-anchor="end" font-weight="normal"  textLength="20.6" lengthAdjust="spacingAndGlyphs" stroke="#2a2a2a" stroke-width="0.2">6000</text>
<line x1="42.5" y1="178.6" x2="45.0" y2="178.6" stroke="#333" stroke-width="0.80"/>
<line x1="381.3" y1="178.6" x2="378.8" y2="178.6" stroke="#333" stroke-width="0.80"/>
<line x1="42.5" y1="171.8" x2="45.0" y2="171.8" stroke="#333" stroke-width="0.80"/>
<line x1="381.3" y1="171.8" x2="378.8" y2="171.8" stroke="#333" stroke-width="0.80"/>
<line x1="42.5" y1="165.0" x2="45.0" y2="165.0" stroke="#333" stroke-width="0.80"/>
<line x1="381.3" y1="165.0" x2="378.8" y2="165.0" stroke="#333" stroke-width="0.80"/>
<line x1="42.5" y1="158.2" x2="47.5" y2="158.2" stroke="#333" stroke-width="0.80"/>
<line x1="381.3" y1="158.2" x2="376.3" y2="158.2" stroke="#333" stroke-width="0.80"/>
<text x="39.5" y="161.9" font-size="10.90" fill="#2a2a2a" text-anchor="end" font-weight="normal"  textLength="20.6" lengthAdjust="spacingAndGlyphs" stroke="#2a2a2a" stroke-width="0.2">8000</text>
<line x1="42.5" y1="151.4" x2="45.0" y2="151.4" stroke="#333" stroke-width="0.80"/>
<line x1="381.3" y1="151.4" x2="378.8" y2="151.4" stroke="#333" stroke-width="0.80"/>
<line x1="42.5" y1="144.6" x2="45.0" y2="144.6" stroke="#333" stroke-width="0.80"/>
<line x1="381.3" y1="144.6" x2="378.8" y2="144.6" stroke="#333" stroke-width="0.80"/>
<line x1="42.5" y1="137.8" x2="45.0" y2="137.8" stroke="#333" stroke-width="0.80"/>
<line x1="381.3" y1="137.8" x2="378.8" y2="137.8" stroke="#333" stroke-width="0.80"/>
<line x1="42.5" y1="131.0" x2="47.5" y2="131.0" stroke="#333" stroke-width="0.80"/>
<line x1="381.3" y1="131.0" x2="376.3" y2="131.0" stroke="#333" stroke-width="0.80"/>
<text x="39.5" y="134.7" font-size="10.90" fill="#2a2a2a" text-anchor="end" font-weight="normal"  textLength="25.8" lengthAdjust="spacingAndGlyphs" stroke="#2a2a2a" stroke-width="0.2">10000</text>
<line x1="42.5" y1="124.2" x2="45.0" y2="124.2" stroke="#333" stroke-width="0.80"/>
<line x1="381.3" y1="124.2" x2="378.8" y2="124.2" stroke="#333" stroke-width="0.80"/>
<line x1="42.5" y1="117.4" x2="45.0" y2="117.4" stroke="#333" stroke-width="0.80"/>
<line x1="381.3" y1="117.4" x2="378.8" y2="117.4" stroke="#333" stroke-width="0.80"/>
<line x1="42.5" y1="110.6" x2="45.0" y2="110.6" stroke="#333" stroke-width="0.80"/>
<line x1="381.3" y1="110.6" x2="378.8" y2="110.6" stroke="#333" stroke-width="0.80"/>
<line x1="42.5" y1="103.8" x2="47.5" y2="103.8" stroke="#333" stroke-width="0.80"/>
<line x1="381.3" y1="103.8" x2="376.3" y2="103.8" stroke="#333" stroke-width="0.80"/>
<text x="39.5" y="107.5" font-size="10.90" fill="#2a2a2a" text-anchor="end" font-weight="normal"  textLength="25.8" lengthAdjust="spacingAndGlyphs" stroke="#2a2a2a" stroke-width="0.2">12000</text>
<line x1="42.5" y1="97.0" x2="45.0" y2="97.0" stroke="#333" stroke-width="0.80"/>
<line x1="381.3" y1="97.0" x2="378.8" y2="97.0" stroke="#333" stroke-width="0.80"/>
<line x1="42.5" y1="90.2" x2="45.0" y2="90.2" stroke="#333" stroke-width="0.80"/>
<line x1="381.3" y1="90.2" x2="378.8" y2="90.2" stroke="#333" stroke-width="0.80"/>
<line x1="42.5" y1="83.5" x2="45.0" y2="83.5" stroke="#333" stroke-width="0.80"/>
<line x1="381.3" y1="83.5" x2="378.8" y2="83.5" stroke="#333" stroke-width="0.80"/>
<line x1="42.5" y1="76.7" x2="47.5" y2="76.7" stroke="#333" stroke-width="0.80"/>
<line x1="381.3" y1="76.7" x2="376.3" y2="76.7" stroke="#333" stroke-width="0.80"/>
<text x="39.5" y="80.4" font-size="10.90" fill="#2a2a2a" text-anchor="end" font-weight="normal"  textLength="25.8" lengthAdjust="spacingAndGlyphs" stroke="#2a2a2a" stroke-width="0.2">14000</text>
<line x1="42.5" y1="69.9" x2="45.0" y2="69.9" stroke="#333" stroke-width="0.80"/>
<line x1="381.3" y1="69.9" x2="378.8" y2="69.9" stroke="#333" stroke-width="0.80"/>
<line x1="42.5" y1="63.1" x2="45.0" y2="63.1" stroke="#333" stroke-width="0.80"/>
<line x1="381.3" y1="63.1" x2="378.8" y2="63.1" stroke="#333" stroke-width="0.80"/>
<line x1="42.5" y1="56.3" x2="45.0" y2="56.3" stroke="#333" stroke-width="0.80"/>
<line x1="381.3" y1="56.3" x2="378.8" y2="56.3" stroke="#333" stroke-width="0.80"/>
<line x1="42.5" y1="49.5" x2="47.5" y2="49.5" stroke="#333" stroke-width="0.80"/>
<line x1="381.3" y1="49.5" x2="376.3" y2="49.5" stroke="#333" stroke-width="0.80"/>
<text x="39.5" y="53.2" font-size="10.90" fill="#2a2a2a" text-anchor="end" font-weight="normal"  textLength="25.8" lengthAdjust="spacingAndGlyphs" stroke="#2a2a2a" stroke-width="0.2">16000</text>
<line x1="42.5" y1="42.7" x2="45.0" y2="42.7" stroke="#333" stroke-width="0.80"/>
<line x1="381.3" y1="42.7" x2="378.8" y2="42.7" stroke="#333" stroke-width="0.80"/>
<line x1="42.5" y1="35.9" x2="45.0" y2="35.9" stroke="#333" stroke-width="0.80"/>
<line x1="381.3" y1="35.9" x2="378.8" y2="35.9" stroke="#333" stroke-width="0.80"/>
<line x1="42.5" y1="29.1" x2="45.0" y2="29.1" stroke="#333" stroke-width="0.80"/>
<line x1="381.3" y1="29.1" x2="378.8" y2="29.1" stroke="#333" stroke-width="0.80"/>
<line x1="42.5" y1="22.3" x2="47.5" y2="22.3" stroke="#333" stroke-width="0.80"/>
<line x1="381.3" y1="22.3" x2="376.3" y2="22.3" stroke="#333" stroke-width="0.80"/>
<text x="39.5" y="26.0" font-size="10.90" fill="#2a2a2a" text-anchor="end" font-weight="normal"  textLength="25.8" lengthAdjust="spacingAndGlyphs" stroke="#2a2a2a" stroke-width="0.2">18000</text>
<line x1="42.5" y1="15.5" x2="45.0" y2="15.5" stroke="#333" stroke-width="0.80"/>
<line x1="381.3" y1="15.5" x2="378.8" y2="15.5" stroke="#333" stroke-width="0.80"/>
<line x1="45.8" y1="253.7" x2="45.8" y2="249.7" stroke="#333" stroke-width="0.80"/>
<line x1="45.8" y1="8.9" x2="45.8" y2="12.9" stroke="#333" stroke-width="0.80"/>
<line x1="71.1" y1="253.7" x2="71.1" y2="251.2" stroke="#333" stroke-width="0.80"/>
<line x1="71.1" y1="8.9" x2="71.1" y2="11.4" stroke="#333" stroke-width="0.80"/>
<line x1="85.8" y1="253.7" x2="85.8" y2="251.2" stroke="#333" stroke-width="0.80"/>
<line x1="85.8" y1="8.9" x2="85.8" y2="11.4" stroke="#333" stroke-width="0.80"/>
<line x1="96.3" y1="253.7" x2="96.3" y2="251.2" stroke="#333" stroke-width="0.80"/>
<line x1="96.3" y1="8.9" x2="96.3" y2="11.4" stroke="#333" stroke-width="0.80"/>
<line x1="104.4" y1="253.7" x2="104.4" y2="251.2" stroke="#333" stroke-width="0.80"/>
<line x1="104.4" y1="8.9" x2="104.4" y2="11.4" stroke="#333" stroke-width="0.80"/>
<line x1="111.1" y1="253.7" x2="111.1" y2="251.2" stroke="#333" stroke-width="0.80"/>
<line x1="111.1" y1="8.9" x2="111.1" y2="11.4" stroke="#333" stroke-width="0.80"/>
<line x1="116.7" y1="253.7" x2="116.7" y2="251.2" stroke="#333" stroke-width="0.80"/>
<line x1="116.7" y1="8.9" x2="116.7" y2="11.4" stroke="#333" stroke-width="0.80"/>
<line x1="121.6" y1="253.7" x2="121.6" y2="251.2" stroke="#333" stroke-width="0.80"/>
<line x1="121.6" y1="8.9" x2="121.6" y2="11.4" stroke="#333" stroke-width="0.80"/>
<line x1="125.9" y1="253.7" x2="125.9" y2="251.2" stroke="#333" stroke-width="0.80"/>
<line x1="125.9" y1="8.9" x2="125.9" y2="11.4" stroke="#333" stroke-width="0.80"/>
<line x1="129.7" y1="253.7" x2="129.7" y2="249.7" stroke="#333" stroke-width="0.80"/>
<line x1="129.7" y1="8.9" x2="129.7" y2="12.9" stroke="#333" stroke-width="0.80"/>
<line x1="155.0" y1="253.7" x2="155.0" y2="251.2" stroke="#333" stroke-width="0.80"/>
<line x1="155.0" y1="8.9" x2="155.0" y2="11.4" stroke="#333" stroke-width="0.80"/>
<line x1="169.7" y1="253.7" x2="169.7" y2="251.2" stroke="#333" stroke-width="0.80"/>
<line x1="169.7" y1="8.9" x2="169.7" y2="11.4" stroke="#333" stroke-width="0.80"/>
<line x1="180.2" y1="253.7" x2="180.2" y2="251.2" stroke="#333" stroke-width="0.80"/>
<line x1="180.2" y1="8.9" x2="180.2" y2="11.4" stroke="#333" stroke-width="0.80"/>
<line x1="188.3" y1="253.7" x2="188.3" y2="251.2" stroke="#333" stroke-width="0.80"/>
<line x1="188.3" y1="8.9" x2="188.3" y2="11.4" stroke="#333" stroke-width="0.80"/>
<line x1="195.0" y1="253.7" x2="195.0" y2="251.2" stroke="#333" stroke-width="0.80"/>
<line x1="195.0" y1="8.9" x2="195.0" y2="11.4" stroke="#333" stroke-width="0.80"/>
<line x1="200.6" y1="253.7" x2="200.6" y2="251.2" stroke="#333" stroke-width="0.80"/>
<line x1="200.6" y1="8.9" x2="200.6" y2="11.4" stroke="#333" stroke-width="0.80"/>
<line x1="205.5" y1="253.7" x2="205.5" y2="251.2" stroke="#333" stroke-width="0.80"/>
<line x1="205.5" y1="8.9" x2="205.5" y2="11.4" stroke="#333" stroke-width="0.80"/>
<line x1="209.8" y1="253.7" x2="209.8" y2="251.2" stroke="#333" stroke-width="0.80"/>
<line x1="209.8" y1="8.9" x2="209.8" y2="11.4" stroke="#333" stroke-width="0.80"/>
<line x1="213.6" y1="253.7" x2="213.6" y2="249.7" stroke="#333" stroke-width="0.80"/>
<line x1="213.6" y1="8.9" x2="213.6" y2="12.9" stroke="#333" stroke-width="0.80"/>
<line x1="238.9" y1="253.7" x2="238.9" y2="251.2" stroke="#333" stroke-width="0.80"/>
<line x1="238.9" y1="8.9" x2="238.9" y2="11.4" stroke="#333" stroke-width="0.80"/>
<line x1="253.6" y1="253.7" x2="253.6" y2="251.2" stroke="#333" stroke-width="0.80"/>
<line x1="253.6" y1="8.9" x2="253.6" y2="11.4" stroke="#333" stroke-width="0.80"/>
<line x1="264.1" y1="253.7" x2="264.1" y2="251.2" stroke="#333" stroke-width="0.80"/>
<line x1="264.1" y1="8.9" x2="264.1" y2="11.4" stroke="#333" stroke-width="0.80"/>
<line x1="272.2" y1="253.7" x2="272.2" y2="251.2" stroke="#333" stroke-width="0.80"/>
<line x1="272.2" y1="8.9" x2="272.2" y2="11.4" stroke="#333" stroke-width="0.80"/>
<line x1="278.9" y1="253.7" x2="278.9" y2="251.2" stroke="#333" stroke-width="0.80"/>
<line x1="278.9" y1="8.9" x2="278.9" y2="11.4" stroke="#333" stroke-width="0.80"/>
<line x1="284.5" y1="253.7" x2="284.5" y2="251.2" stroke="#333" stroke-width="0.80"/>
<line x1="284.5" y1="8.9" x2="284.5" y2="11.4" stroke="#333" stroke-width="0.80"/>
<line x1="289.4" y1="253.7" x2="289.4" y2="251.2" stroke="#333" stroke-width="0.80"/>
<line x1="289.4" y1="8.9" x2="289.4" y2="11.4" stroke="#333" stroke-width="0.80"/>
<line x1="293.7" y1="253.7" x2="293.7" y2="251.2" stroke="#333" stroke-width="0.80"/>
<line x1="293.7" y1="8.9" x2="293.7" y2="11.4" stroke="#333" stroke-width="0.80"/>
<line x1="297.5" y1="253.7" x2="297.5" y2="249.7" stroke="#333" stroke-width="0.80"/>
<line x1="297.5" y1="8.9" x2="297.5" y2="12.9" stroke="#333" stroke-width="0.80"/>
<line x1="322.8" y1="253.7" x2="322.8" y2="251.2" stroke="#333" stroke-width="0.80"/>
<line x1="322.8" y1="8.9" x2="322.8" y2="11.4" stroke="#333" stroke-width="0.80"/>
<line x1="337.5" y1="253.7" x2="337.5" y2="251.2" stroke="#333" stroke-width="0.80"/>
<line x1="337.5" y1="8.9" x2="337.5" y2="11.4" stroke="#333" stroke-width="0.80"/>
<line x1="348.0" y1="253.7" x2="348.0" y2="251.2" stroke="#333" stroke-width="0.80"/>
<line x1="348.0" y1="8.9" x2="348.0" y2="11.4" stroke="#333" stroke-width="0.80"/>
<line x1="356.1" y1="253.7" x2="356.1" y2="251.2" stroke="#333" stroke-width="0.80"/>
<line x1="356.1" y1="8.9" x2="356.1" y2="11.4" stroke="#333" stroke-width="0.80"/>
<line x1="362.8" y1="253.7" x2="362.8" y2="251.2" stroke="#333" stroke-width="0.80"/>
<line x1="362.8" y1="8.9" x2="362.8" y2="11.4" stroke="#333" stroke-width="0.80"/>
<line x1="368.4" y1="253.7" x2="368.4" y2="251.2" stroke="#333" stroke-width="0.80"/>
<line x1="368.4" y1="8.9" x2="368.4" y2="11.4" stroke="#333" stroke-width="0.80"/>
<line x1="373.3" y1="253.7" x2="373.3" y2="251.2" stroke="#333" stroke-width="0.80"/>
<line x1="373.3" y1="8.9" x2="373.3" y2="11.4" stroke="#333" stroke-width="0.80"/>
<line x1="377.6" y1="253.7" x2="377.6" y2="251.2" stroke="#333" stroke-width="0.80"/>
<line x1="377.6" y1="8.9" x2="377.6" y2="11.4" stroke="#333" stroke-width="0.80"/>
<line x1="381.4" y1="253.7" x2="381.4" y2="249.7" stroke="#333" stroke-width="0.80"/>
<text x="47.3" y="267.6" font-size="10.40" fill="#2a2a2a" text-anchor="middle" font-weight="normal"  stroke="#2a2a2a" stroke-width="0.2">10</text>
<text x="127.6" y="267.6" font-size="10.40" fill="#2a2a2a" text-anchor="middle" font-weight="normal"  stroke="#2a2a2a" stroke-width="0.2">10</text>
<text x="132.8" y="263.0" font-size="6.50" fill="#2a2a2a" text-anchor="start" font-weight="normal"  stroke="#2a2a2a" stroke-width="0.2">2</text>
<text x="211.5" y="267.6" font-size="10.40" fill="#2a2a2a" text-anchor="middle" font-weight="normal"  stroke="#2a2a2a" stroke-width="0.2">10</text>
<text x="216.7" y="263.0" font-size="6.50" fill="#2a2a2a" text-anchor="start" font-weight="normal"  stroke="#2a2a2a" stroke-width="0.2">3</text>
<text x="295.4" y="267.6" font-size="10.40" fill="#2a2a2a" text-anchor="middle" font-weight="normal"  stroke="#2a2a2a" stroke-width="0.2">10</text>
<text x="300.6" y="263.0" font-size="6.50" fill="#2a2a2a" text-anchor="start" font-weight="normal"  stroke="#2a2a2a" stroke-width="0.2">4</text>
<text x="379.3" y="267.6" font-size="10.40" fill="#2a2a2a" text-anchor="middle" font-weight="normal"  stroke="#2a2a2a" stroke-width="0.2">10</text>
<text x="384.5" y="263.0" font-size="6.50" fill="#2a2a2a" text-anchor="start" font-weight="normal"  stroke="#2a2a2a" stroke-width="0.2">5</text>
<text x="288.5" y="278.2" font-size="10.30" fill="#333" text-anchor="start" font-weight="normal"  textLength="93.5" lengthAdjust="spacingAndGlyphs" stroke="#333" stroke-width="0.2">Kinetic Energy [GeV]</text>
<text transform="translate(13.6,128.6) rotate(-90)" font-size="10.8" fill="#2a2a2a" stroke="#2a2a2a" stroke-width="0.15" textLength="120.5" lengthAdjust="spacingAndGlyphs">Flux &#215; E<tspan font-size="6.2" dy="-4.6">2.7</tspan><tspan dy="4.6"> [m</tspan><tspan font-size="6.2" dy="-4.6">-2</tspan><tspan dy="4.6">sr</tspan><tspan font-size="6.2" dy="-4.6">-1</tspan><tspan dy="4.6">s</tspan><tspan font-size="6.2" dy="-4.6">-1</tspan><tspan dy="4.6">GeV</tspan><tspan font-size="6.2" dy="-4.6">1.7</tspan><tspan dy="4.6">]</tspan></text>
<line x1="63.4" y1="157.6" x2="88.4" y2="157.6" stroke="#d41a1a" stroke-width="1.30"/>
<circle cx="76.0" cy="157.6" r="2.30" fill="#c81414" stroke="none" stroke-width="0.00"/>
<text x="93.5" y="160.3" font-size="10.00" fill="#2a2a2a" text-anchor="start" font-weight="normal"  textLength="35.5" lengthAdjust="spacingAndGlyphs" stroke="#2a2a2a" stroke-width="0.2">DAMPE</text>
<line x1="63.4" y1="169.1" x2="88.4" y2="169.1" stroke="#7ccfcf" stroke-width="1.30"/>
<polygon points="76.0,167.2 74.2,170.4 77.8,170.4" fill="none" stroke="#5cbcbc" stroke-width="0.90"/>
<text x="93.5" y="171.8" font-size="10.00" fill="#2a2a2a" text-anchor="start" font-weight="normal"  textLength="64.3" lengthAdjust="spacingAndGlyphs" stroke="#2a2a2a" stroke-width="0.2">ATIC-2 (2009)</text>
<line x1="63.4" y1="180.6" x2="88.4" y2="180.6" stroke="#b3e2ab" stroke-width="1.30"/>
<circle cx="76.0" cy="180.6" r="2.00" fill="#9fd896" stroke="none" stroke-width="0.00"/>
<text x="93.5" y="183.3" font-size="10.00" fill="#2a2a2a" text-anchor="start" font-weight="normal"  textLength="73.2" lengthAdjust="spacingAndGlyphs" stroke="#2a2a2a" stroke-width="0.2">PAMELA (2011)</text>
<line x1="63.4" y1="192.1" x2="88.4" y2="192.1" stroke="#a8acdc" stroke-width="1.30"/>
<rect x="74.3" y="190.4" width="3.40" height="3.40" fill="none" stroke="#8a90d0" stroke-width="0.90"/>
<text x="93.5" y="194.8" font-size="10.00" fill="#2a2a2a" text-anchor="start" font-weight="normal"  textLength="69.5" lengthAdjust="spacingAndGlyphs" stroke="#2a2a2a" stroke-width="0.2">AMS-02 (2015)</text>
<line x1="63.4" y1="203.6" x2="88.4" y2="203.6" stroke="#ead0ef" stroke-width="1.30"/>
<circle cx="76.0" cy="203.6" r="2.50" fill="#e2bfe9" stroke="none" stroke-width="0.00"/>
<text x="93.5" y="206.3" font-size="10.00" fill="#2a2a2a" text-anchor="start" font-weight="normal"  textLength="89.1" lengthAdjust="spacingAndGlyphs" stroke="#2a2a2a" stroke-width="0.2">CREAM-I+III (2017)</text>
<line x1="63.4" y1="215.1" x2="88.4" y2="215.1" stroke="#a5a5a5" stroke-width="1.30"/>
<polygon points="76.0,213.0 74.1,216.5 77.9,216.5" fill="white" stroke="#777" stroke-width="0.90"/>
<text x="93.5" y="217.8" font-size="10.00" fill="#2a2a2a" text-anchor="start" font-weight="normal"  textLength="111.7" lengthAdjust="spacingAndGlyphs" stroke="#2a2a2a" stroke-width="0.2">NUCLEON-KLEM (2018)</text>
<line x1="63.4" y1="226.6" x2="88.4" y2="226.6" stroke="#c4b4ec" stroke-width="1.30"/>
<circle cx="76.0" cy="226.6" r="1.60" fill="#5a30c0" stroke="none" stroke-width="0.00"/>
<text x="93.5" y="229.3" font-size="10.00" fill="#2a2a2a" text-anchor="start" font-weight="normal"  textLength="64.1" lengthAdjust="spacingAndGlyphs" stroke="#2a2a2a" stroke-width="0.2">CALET (2019)</text>
<line x1="63.4" y1="238.1" x2="88.4" y2="238.1" stroke="#1414a8" stroke-width="1.60"/>
<circle cx="76.0" cy="238.1" r="2.80" fill="#10109a" stroke="none" stroke-width="0.00"/>
<text x="93.5" y="240.8" font-size="10.00" fill="#2a2a2a" text-anchor="start" font-weight="normal"  textLength="93.1" lengthAdjust="spacingAndGlyphs" stroke="#2a2a2a" stroke-width="0.2">AMS-02 (ICRC2019)</text>
<polygon points="452.0,146.0 455.0,146.1 459.2,146.1 464.1,146.2 469.5,146.3 474.9,146.6 480.0,147.0 484.8,147.6 489.7,148.3 494.6,149.1 499.6,150.0 504.7,151.0 510.0,152.0 515.7,153.1 521.7,154.4 527.8,155.8 533.9,157.1 539.7,158.2 545.0,159.0 549.7,159.5 553.9,159.8 557.8,160.0 561.7,159.9 565.7,159.8 570.0,159.5 574.6,159.1 579.3,158.6 584.1,158.0 589.1,157.2 594.4,156.2 600.0,155.0 606.2,153.6 613.0,151.9 620.0,150.0 627.0,148.1 633.8,146.0 640.0,144.0 645.7,141.9 651.2,139.8 656.4,137.6 661.3,135.4 665.9,133.2 670.0,131.0 673.6,128.7 676.8,126.1 679.6,123.5 682.1,121.2 684.5,119.4 687.0,118.5 689.2,118.4 691.1,118.9 692.9,120.0 694.8,121.6 697.1,123.6 700.0,126.0 704.0,129.2 709.0,133.4 714.3,138.0 719.5,142.5 723.9,146.3 727.0,149.0 727.0,178.0 723.9,176.6 719.5,174.6 714.3,172.2 709.0,169.9 704.0,167.7 700.0,166.0 697.1,164.8 694.8,163.7 692.9,162.9 691.1,162.3 689.2,162.0 687.0,162.0 684.5,162.4 682.1,163.1 679.6,164.1 676.8,165.3 673.6,166.7 670.0,168.0 665.9,169.5 661.3,171.1 656.4,172.9 651.2,174.7 645.7,176.4 640.0,178.0 633.8,179.5 627.0,181.1 620.0,182.6 613.0,184.0 606.2,185.2 600.0,186.0 594.4,186.4 589.1,186.5 584.1,186.4 579.3,186.1 574.6,186.0 570.0,186.0 565.7,186.3 561.7,186.7 557.8,187.2 553.9,187.6 549.7,187.9 545.0,188.0 539.7,187.8 533.9,187.4 527.8,186.9 521.7,186.3 515.7,185.6 510.0,185.0 504.7,184.4 499.6,183.8 494.6,183.1 489.7,182.4 484.8,181.7 480.0,181.0 474.9,180.2 469.5,179.4 464.1,178.5 459.2,177.7 455.0,177.0 452.0,176.5" fill="#e6c2bc" fill-opacity="0.72"/>
<polygon points="540.0,172.0 544.6,172.2 551.1,172.4 558.8,172.8 566.7,173.0 574.0,173.1 580.0,173.0 584.3,172.8 587.4,172.4 590.0,172.0 592.6,171.3 595.7,170.4 600.0,169.0 605.6,167.1 612.2,164.8 619.4,162.1 626.7,159.3 633.7,156.6 640.0,154.0 645.7,151.5 651.2,149.0 656.4,146.5 661.3,144.1 665.9,141.9 670.0,140.0 673.6,138.3 676.8,136.8 679.6,135.4 682.1,134.3 684.5,133.5 687.0,133.0 689.2,132.7 691.1,132.7 692.9,132.9 694.8,133.4 697.1,134.5 700.0,136.0 704.0,138.5 709.0,141.9 714.3,145.7 719.5,149.5 723.9,152.7 727.0,155.0 727.0,166.0 723.9,164.0 719.5,161.1 714.3,157.7 709.0,154.3 704.0,151.2 700.0,149.0 697.1,147.6 694.8,146.7 692.9,146.1 691.1,145.9 689.2,145.9 687.0,146.0 684.5,146.3 682.1,146.8 679.6,147.5 676.8,148.4 673.6,149.6 670.0,151.0 665.9,152.7 661.3,154.7 656.4,156.9 651.2,159.3 645.7,161.7 640.0,164.0 633.7,166.4 626.7,169.0 619.4,171.6 612.2,174.0 605.6,176.2 600.0,178.0 595.7,179.3 592.6,180.3 590.0,180.9 587.4,181.4 584.3,181.7 580.0,182.0 574.0,182.1 566.7,182.0 558.8,181.8 551.1,181.4 544.6,181.2 540.0,181.0" fill="#a89ad8" fill-opacity="0.42"/>
<g opacity="0.55">
<line x1="454.0" y1="182.4" x2="454.0" y2="188.4" stroke="#f0b36a" stroke-width="0.90"/>
<line x1="452.5" y1="182.4" x2="455.5" y2="182.4" stroke="#f0b36a" stroke-width="0.90"/>
<line x1="452.5" y1="188.4" x2="455.5" y2="188.4" stroke="#f0b36a" stroke-width="0.90"/>
<circle cx="454.0" cy="185.4" r="2.90" fill="#f8d2a8" stroke="#f5c08a" stroke-width="0.60"/>
</g>
<g opacity="0.55">
<line x1="473.0" y1="181.0" x2="473.0" y2="187.0" stroke="#f0b36a" stroke-width="0.90"/>
<line x1="471.5" y1="181.0" x2="474.5" y2="181.0" stroke="#f0b36a" stroke-width="0.90"/>
<line x1="471.5" y1="187.0" x2="474.5" y2="187.0" stroke="#f0b36a" stroke-width="0.90"/>
<circle cx="473.0" cy="184.0" r="2.90" fill="#f8d2a8" stroke="#f5c08a" stroke-width="0.60"/>
</g>
<g opacity="0.55">
<line x1="491.9" y1="175.6" x2="491.9" y2="181.6" stroke="#f0b36a" stroke-width="0.90"/>
<line x1="490.4" y1="175.6" x2="493.4" y2="175.6" stroke="#f0b36a" stroke-width="0.90"/>
<line x1="490.4" y1="181.6" x2="493.4" y2="181.6" stroke="#f0b36a" stroke-width="0.90"/>
<circle cx="491.9" cy="178.6" r="2.90" fill="#f8d2a8" stroke="#f5c08a" stroke-width="0.60"/>
</g>
<g opacity="0.55">
<line x1="509.5" y1="174.0" x2="509.5" y2="182.0" stroke="#f0b36a" stroke-width="0.90"/>
<line x1="508.0" y1="174.0" x2="511.0" y2="174.0" stroke="#f0b36a" stroke-width="0.90"/>
<line x1="508.0" y1="182.0" x2="511.0" y2="182.0" stroke="#f0b36a" stroke-width="0.90"/>
<circle cx="509.5" cy="178.0" r="2.90" fill="#f8d2a8" stroke="#f5c08a" stroke-width="0.60"/>
</g>
<g opacity="0.85">
<line x1="599.5" y1="158.5" x2="599.5" y2="177.5" stroke="#f0b36a" stroke-width="0.90"/>
<line x1="598.0" y1="158.5" x2="601.0" y2="158.5" stroke="#f0b36a" stroke-width="0.90"/>
<line x1="598.0" y1="177.5" x2="601.0" y2="177.5" stroke="#f0b36a" stroke-width="0.90"/>
<circle cx="599.5" cy="168.0" r="2.50" fill="#fdf0e2" stroke="#f2bb80" stroke-width="0.80"/>
</g>
<g opacity="0.85">
<line x1="617.7" y1="147.0" x2="617.7" y2="166.0" stroke="#f0b36a" stroke-width="0.90"/>
<line x1="616.2" y1="147.0" x2="619.2" y2="147.0" stroke="#f0b36a" stroke-width="0.90"/>
<line x1="616.2" y1="166.0" x2="619.2" y2="166.0" stroke="#f0b36a" stroke-width="0.90"/>
<circle cx="617.7" cy="156.5" r="2.50" fill="#fdf0e2" stroke="#f2bb80" stroke-width="0.80"/>
</g>
<g opacity="0.85">
<line x1="634.6" y1="132.0" x2="634.6" y2="146.0" stroke="#f0b36a" stroke-width="0.90"/>
<line x1="633.1" y1="132.0" x2="636.1" y2="132.0" stroke="#f0b36a" stroke-width="0.90"/>
<line x1="633.1" y1="146.0" x2="636.1" y2="146.0" stroke="#f0b36a" stroke-width="0.90"/>
<circle cx="634.6" cy="139.0" r="2.50" fill="#fdf0e2" stroke="#f2bb80" stroke-width="0.80"/>
</g>
<g opacity="0.85">
<line x1="652.5" y1="117.0" x2="652.5" y2="137.0" stroke="#f0b36a" stroke-width="0.90"/>
<line x1="651.0" y1="117.0" x2="654.0" y2="117.0" stroke="#f0b36a" stroke-width="0.90"/>
<line x1="651.0" y1="137.0" x2="654.0" y2="137.0" stroke="#f0b36a" stroke-width="0.90"/>
<circle cx="652.5" cy="127.0" r="2.50" fill="#fdf0e2" stroke="#f2bb80" stroke-width="0.80"/>
</g>
<g opacity="0.85">
<line x1="652.5" y1="157.0" x2="652.5" y2="179.0" stroke="#f0b36a" stroke-width="0.90"/>
<line x1="651.0" y1="157.0" x2="654.0" y2="157.0" stroke="#f0b36a" stroke-width="0.90"/>
<line x1="651.0" y1="179.0" x2="654.0" y2="179.0" stroke="#f0b36a" stroke-width="0.90"/>
<circle cx="652.5" cy="168.0" r="2.50" fill="#fdf0e2" stroke="#f2bb80" stroke-width="0.80"/>
</g>
<g opacity="0.85">
<line x1="670.4" y1="153.0" x2="670.4" y2="171.0" stroke="#f0b36a" stroke-width="0.90"/>
<line x1="668.9" y1="153.0" x2="671.9" y2="153.0" stroke="#f0b36a" stroke-width="0.90"/>
<line x1="668.9" y1="171.0" x2="671.9" y2="171.0" stroke="#f0b36a" stroke-width="0.90"/>
<circle cx="670.4" cy="162.0" r="2.50" fill="#fdf0e2" stroke="#f2bb80" stroke-width="0.80"/>
</g>
<g opacity="0.85">
<line x1="687.0" y1="177.0" x2="687.0" y2="203.0" stroke="#f0b36a" stroke-width="0.90"/>
<line x1="685.5" y1="177.0" x2="688.5" y2="177.0" stroke="#f0b36a" stroke-width="0.90"/>
<line x1="685.5" y1="203.0" x2="688.5" y2="203.0" stroke="#f0b36a" stroke-width="0.90"/>
<circle cx="687.0" cy="190.0" r="2.50" fill="#fdf0e2" stroke="#f2bb80" stroke-width="0.80"/>
</g>
<polygon points="453.0,152.5 453.9,154.8 456.3,154.9 454.4,156.5 455.1,158.8 453.0,157.5 450.9,158.8 451.6,156.5 449.7,154.9 452.1,154.8" fill="none" stroke="#5252b8" stroke-width="0.90"/>
<polygon points="457.0,148.5 457.9,150.8 460.3,150.9 458.4,152.5 459.1,154.8 457.0,153.5 454.9,154.8 455.6,152.5 453.7,150.9 456.1,150.8" fill="none" stroke="#5252b8" stroke-width="0.90"/>
<polygon points="461.0,150.5 461.9,152.8 464.3,152.9 462.4,154.5 463.1,156.8 461.0,155.5 458.9,156.8 459.6,154.5 457.7,152.9 460.1,152.8" fill="none" stroke="#5252b8" stroke-width="0.90"/>
<polygon points="465.0,153.5 465.9,155.8 468.3,155.9 466.4,157.5 467.1,159.8 465.0,158.5 462.9,159.8 463.6,157.5 461.7,155.9 464.1,155.8" fill="none" stroke="#5252b8" stroke-width="0.90"/>
<polygon points="470.0,153.5 470.9,155.8 473.3,155.9 471.4,157.5 472.1,159.8 470.0,158.5 467.9,159.8 468.6,157.5 466.7,155.9 469.1,155.8" fill="none" stroke="#5252b8" stroke-width="0.90"/>
<polygon points="476.0,155.5 476.9,157.8 479.3,157.9 477.4,159.5 478.1,161.8 476.0,160.5 473.9,161.8 474.6,159.5 472.7,157.9 475.1,157.8" fill="none" stroke="#5252b8" stroke-width="0.90"/>
<polygon points="483.0,164.5 483.9,166.8 486.3,166.9 484.4,168.5 485.1,170.8 483.0,169.5 480.9,170.8 481.6,168.5 479.7,166.9 482.1,166.8" fill="none" stroke="#5252b8" stroke-width="0.90"/>
<polygon points="488.0,154.5 488.9,156.8 491.3,156.9 489.4,158.5 490.1,160.8 488.0,159.5 485.9,160.8 486.6,158.5 484.7,156.9 487.1,156.8" fill="none" stroke="#5252b8" stroke-width="0.90"/>
<polygon points="494.0,161.5 494.9,163.8 497.3,163.9 495.4,165.5 496.1,167.8 494.0,166.5 491.9,167.8 492.6,165.5 490.7,163.9 493.1,163.8" fill="none" stroke="#5252b8" stroke-width="0.90"/>
<polygon points="500.0,164.5 500.9,166.8 503.3,166.9 501.4,168.5 502.1,170.8 500.0,169.5 497.9,170.8 498.6,168.5 496.7,166.9 499.1,166.8" fill="none" stroke="#5252b8" stroke-width="0.90"/>
<polygon points="506.0,167.5 506.9,169.8 509.3,169.9 507.4,171.5 508.1,173.8 506.0,172.5 503.9,173.8 504.6,171.5 502.7,169.9 505.1,169.8" fill="none" stroke="#5252b8" stroke-width="0.90"/>
<polygon points="512.0,169.5 512.9,171.8 515.3,171.9 513.4,173.5 514.1,175.8 512.0,174.5 509.9,175.8 510.6,173.5 508.7,171.9 511.1,171.8" fill="none" stroke="#5252b8" stroke-width="0.90"/>
<polygon points="518.0,174.5 518.9,176.8 521.3,176.9 519.4,178.5 520.1,180.8 518.0,179.5 515.9,180.8 516.6,178.5 514.7,176.9 517.1,176.8" fill="none" stroke="#5252b8" stroke-width="0.90"/>
<polygon points="523.0,179.5 523.9,181.8 526.3,181.9 524.4,183.5 525.1,185.8 523.0,184.5 520.9,185.8 521.6,183.5 519.7,181.9 522.1,181.8" fill="none" stroke="#5252b8" stroke-width="0.90"/>
<polygon points="526.8,182.5 527.7,184.8 530.1,184.9 528.2,186.5 528.9,188.8 526.8,187.5 524.7,188.8 525.4,186.5 523.5,184.9 525.9,184.8" fill="none" stroke="#5252b8" stroke-width="0.90"/>
<polygon points="531.0,185.5 531.9,187.8 534.3,187.9 532.4,189.5 533.1,191.8 531.0,190.5 528.9,191.8 529.6,189.5 527.7,187.9 530.1,187.8" fill="none" stroke="#5252b8" stroke-width="0.90"/>
<polygon points="535.2,184.3 536.1,186.6 538.5,186.7 536.6,188.3 537.3,190.6 535.2,189.3 533.1,190.6 533.8,188.3 531.9,186.7 534.3,186.6" fill="none" stroke="#5252b8" stroke-width="0.90"/>
<polygon points="539.0,180.5 539.9,182.8 542.3,182.9 540.4,184.5 541.1,186.8 539.0,185.5 536.9,186.8 537.6,184.5 535.7,182.9 538.1,182.8" fill="none" stroke="#5252b8" stroke-width="0.90"/>
<polygon points="543.6,181.0 544.5,183.3 546.9,183.4 545.0,185.0 545.7,187.3 543.6,186.0 541.5,187.3 542.2,185.0 540.3,183.4 542.7,183.3" fill="none" stroke="#5252b8" stroke-width="0.90"/>
<polygon points="548.0,182.5 548.9,184.8 551.3,184.9 549.4,186.5 550.1,188.8 548.0,187.5 545.9,188.8 546.6,186.5 544.7,184.9 547.1,184.8" fill="none" stroke="#5252b8" stroke-width="0.90"/>
<line x1="553.8" y1="159.0" x2="553.8" y2="189.5" stroke="#6666bb" stroke-width="0.90"/>
<line x1="552.3" y1="159.0" x2="555.3" y2="159.0" stroke="#6666bb" stroke-width="0.90"/>
<line x1="552.3" y1="189.5" x2="555.3" y2="189.5" stroke="#6666bb" stroke-width="0.90"/>
<polygon points="553.8,164.1 554.7,166.4 557.1,166.5 555.2,168.1 555.9,170.4 553.8,169.1 551.7,170.4 552.4,168.1 550.5,166.5 552.9,166.4" fill="none" stroke="#5252b8" stroke-width="0.90"/>
<line x1="560.5" y1="174.0" x2="560.5" y2="189.5" stroke="#6666bb" stroke-width="0.90"/>
<line x1="559.0" y1="174.0" x2="562.0" y2="174.0" stroke="#6666bb" stroke-width="0.90"/>
<line x1="559.0" y1="189.5" x2="562.0" y2="189.5" stroke="#6666bb" stroke-width="0.90"/>
<polygon points="560.5,177.5 561.4,179.8 563.8,179.9 561.9,181.5 562.6,183.8 560.5,182.5 558.4,183.8 559.1,181.5 557.2,179.9 559.6,179.8" fill="none" stroke="#5252b8" stroke-width="0.90"/>
<line x1="570.7" y1="150.7" x2="570.7" y2="172.6" stroke="#6666bb" stroke-width="0.90"/>
<line x1="569.2" y1="150.7" x2="572.2" y2="150.7" stroke="#6666bb" stroke-width="0.90"/>
<line x1="569.2" y1="172.6" x2="572.2" y2="172.6" stroke="#6666bb" stroke-width="0.90"/>
<polygon points="570.7,164.1 571.6,166.4 574.0,166.5 572.1,168.1 572.8,170.4 570.7,169.1 568.6,170.4 569.3,168.1 567.4,166.5 569.8,166.4" fill="none" stroke="#5252b8" stroke-width="0.90"/>
<line x1="582.4" y1="99.6" x2="582.4" y2="164.0" stroke="#6666bb" stroke-width="0.90"/>
<line x1="580.9" y1="99.6" x2="583.9" y2="99.6" stroke="#6666bb" stroke-width="0.90"/>
<line x1="580.9" y1="164.0" x2="583.9" y2="164.0" stroke="#6666bb" stroke-width="0.90"/>
<polygon points="582.4,130.3 583.3,132.6 585.7,132.7 583.8,134.3 584.5,136.6 582.4,135.3 580.3,136.6 581.0,134.3 579.1,132.7 581.5,132.6" fill="none" stroke="#5252b8" stroke-width="0.90"/>
<polygon points="453.0,157.3 455.7,160.0 453.0,162.7 450.3,160.0" fill="#111" stroke="#111" stroke-width="0.30"/>
<polygon points="455.9,157.4 458.6,160.1 455.9,162.8 453.2,160.1" fill="#111" stroke="#111" stroke-width="0.30"/>
<polygon points="458.8,157.6 461.5,160.3 458.8,163.0 456.1,160.3" fill="#111" stroke="#111" stroke-width="0.30"/>
<polygon points="461.7,157.7 464.4,160.4 461.7,163.1 459.0,160.4" fill="#111" stroke="#111" stroke-width="0.30"/>
<polygon points="464.6,157.8 467.3,160.5 464.6,163.2 461.9,160.5" fill="#111" stroke="#111" stroke-width="0.30"/>
<polygon points="467.5,158.0 470.2,160.7 467.5,163.4 464.8,160.7" fill="#111" stroke="#111" stroke-width="0.30"/>
<polygon points="470.4,158.2 473.1,160.9 470.4,163.6 467.7,160.9" fill="#111" stroke="#111" stroke-width="0.30"/>
<polygon points="473.3,158.6 476.0,161.3 473.3,164.0 470.6,161.3" fill="#111" stroke="#111" stroke-width="0.30"/>
<polygon points="476.2,159.0 478.9,161.7 476.2,164.4 473.5,161.7" fill="#111" stroke="#111" stroke-width="0.30"/>
<polygon points="479.1,159.5 481.8,162.2 479.1,164.9 476.4,162.2" fill="#111" stroke="#111" stroke-width="0.30"/>
<polygon points="482.0,159.9 484.7,162.6 482.0,165.3 479.3,162.6" fill="#111" stroke="#111" stroke-width="0.30"/>
<polygon points="484.9,160.3 487.6,163.0 484.9,165.7 482.2,163.0" fill="#111" stroke="#111" stroke-width="0.30"/>
<polygon points="487.8,160.8 490.5,163.5 487.8,166.2 485.1,163.5" fill="#111" stroke="#111" stroke-width="0.30"/>
<polygon points="490.7,161.3 493.4,164.0 490.7,166.7 488.0,164.0" fill="#111" stroke="#111" stroke-width="0.30"/>
<polygon points="493.6,162.1 496.3,164.8 493.6,167.5 490.9,164.8" fill="#111" stroke="#111" stroke-width="0.30"/>
<polygon points="496.5,163.0 499.2,165.7 496.5,168.4 493.8,165.7" fill="#111" stroke="#111" stroke-width="0.30"/>
<polygon points="499.4,163.8 502.1,166.5 499.4,169.2 496.7,166.5" fill="#111" stroke="#111" stroke-width="0.30"/>
<polygon points="502.3,164.6 505.0,167.3 502.3,170.0 499.6,167.3" fill="#111" stroke="#111" stroke-width="0.30"/>
<polygon points="505.2,165.4 507.9,168.1 505.2,170.8 502.5,168.1" fill="#111" stroke="#111" stroke-width="0.30"/>
<polygon points="508.1,166.3 510.8,169.0 508.1,171.7 505.4,169.0" fill="#111" stroke="#111" stroke-width="0.30"/>
<polygon points="511.0,167.0 513.7,169.7 511.0,172.4 508.3,169.7" fill="#111" stroke="#111" stroke-width="0.30"/>
<polygon points="513.9,167.7 516.6,170.4 513.9,173.1 511.2,170.4" fill="#111" stroke="#111" stroke-width="0.30"/>
<polygon points="516.8,168.3 519.5,171.0 516.8,173.7 514.1,171.0" fill="#111" stroke="#111" stroke-width="0.30"/>
<polygon points="519.7,169.0 522.4,171.7 519.7,174.4 517.0,171.7" fill="#111" stroke="#111" stroke-width="0.30"/>
<polygon points="523.4,169.8 526.1,172.5 523.4,175.2 520.7,172.5" fill="#111" stroke="#111" stroke-width="0.30"/>
<polygon points="529.0,171.1 531.7,173.8 529.0,176.5 526.3,173.8" fill="#111" stroke="#111" stroke-width="0.30"/>
<polygon points="535.0,172.1 537.7,174.8 535.0,177.4 532.3,174.8" fill="#111" stroke="#111" stroke-width="0.30"/>
<polygon points="541.0,173.0 543.7,175.7 541.0,178.3 538.3,175.7" fill="#111" stroke="#111" stroke-width="0.30"/>
<polygon points="547.0,173.9 549.7,176.6 547.0,179.2 544.3,176.6" fill="#111" stroke="#111" stroke-width="0.30"/>
<polygon points="553.5,174.5 556.2,177.2 553.5,179.9 550.8,177.2" fill="#111" stroke="#111" stroke-width="0.30"/>
<polygon points="560.5,174.8 563.2,177.5 560.5,180.2 557.8,177.5" fill="#111" stroke="#111" stroke-width="0.30"/>
<polygon points="570.7,175.2 573.4,177.9 570.7,180.6 568.0,177.9" fill="#111" stroke="#111" stroke-width="0.30"/>
<polygon points="582.0,174.1 584.7,176.8 582.0,179.5 579.3,176.8" fill="#111" stroke="#111" stroke-width="0.30"/>
<polygon points="595.0,172.2 597.7,174.9 595.0,177.6 592.3,174.9" fill="#111" stroke="#111" stroke-width="0.30"/>
<line x1="617.7" y1="168.0" x2="617.7" y2="183.0" stroke="#111" stroke-width="0.90"/>
<line x1="616.2" y1="168.0" x2="619.2" y2="168.0" stroke="#111" stroke-width="0.90"/>
<line x1="616.2" y1="183.0" x2="619.2" y2="183.0" stroke="#111" stroke-width="0.90"/>
<polygon points="617.7,172.6 620.1,175.0 617.7,177.4 615.3,175.0" fill="#111" stroke="#111" stroke-width="0.30"/>
<line x1="599.5" y1="178.0" x2="599.5" y2="184.0" stroke="#8b3a3a" stroke-width="0.90"/>
<line x1="597.0" y1="178.0" x2="602.0" y2="178.0" stroke="#8b3a3a" stroke-width="0.90"/>
<line x1="597.0" y1="184.0" x2="602.0" y2="184.0" stroke="#8b3a3a" stroke-width="0.90"/>
<rect x="597.1" y="178.6" width="4.80" height="4.80" fill="white" stroke="#86302e" stroke-width="0.85"/>
<line x1="617.7" y1="163.9" x2="617.7" y2="169.9" stroke="#8b3a3a" stroke-width="0.90"/>
<line x1="615.2" y1="163.9" x2="620.2" y2="163.9" stroke="#8b3a3a" stroke-width="0.90"/>
<line x1="615.2" y1="169.9" x2="620.2" y2="169.9" stroke="#8b3a3a" stroke-width="0.90"/>
<rect x="615.3" y="164.5" width="4.80" height="4.80" fill="white" stroke="#86302e" stroke-width="0.85"/>
<line x1="634.6" y1="143.3" x2="634.6" y2="149.3" stroke="#8b3a3a" stroke-width="0.90"/>
<line x1="632.1" y1="143.3" x2="637.1" y2="143.3" stroke="#8b3a3a" stroke-width="0.90"/>
<line x1="632.1" y1="149.3" x2="637.1" y2="149.3" stroke="#8b3a3a" stroke-width="0.90"/>
<rect x="632.2" y="143.9" width="4.80" height="4.80" fill="white" stroke="#86302e" stroke-width="0.85"/>
<line x1="652.5" y1="135.9" x2="652.5" y2="141.9" stroke="#8b3a3a" stroke-width="0.90"/>
<line x1="650.0" y1="135.9" x2="655.0" y2="135.9" stroke="#8b3a3a" stroke-width="0.90"/>
<line x1="650.0" y1="141.9" x2="655.0" y2="141.9" stroke="#8b3a3a" stroke-width="0.90"/>
<rect x="650.1" y="136.5" width="4.80" height="4.80" fill="white" stroke="#86302e" stroke-width="0.85"/>
<line x1="670.4" y1="130.8" x2="670.4" y2="144.8" stroke="#8b3a3a" stroke-width="0.90"/>
<line x1="667.9" y1="130.8" x2="672.9" y2="130.8" stroke="#8b3a3a" stroke-width="0.90"/>
<line x1="667.9" y1="144.8" x2="672.9" y2="144.8" stroke="#8b3a3a" stroke-width="0.90"/>
<rect x="668.0" y="135.4" width="4.80" height="4.80" fill="white" stroke="#86302e" stroke-width="0.85"/>
<line x1="688.3" y1="105.4" x2="688.3" y2="177.0" stroke="#8b3a3a" stroke-width="0.90"/>
<line x1="685.8" y1="105.4" x2="690.8" y2="105.4" stroke="#8b3a3a" stroke-width="0.90"/>
<line x1="685.8" y1="177.0" x2="690.8" y2="177.0" stroke="#8b3a3a" stroke-width="0.90"/>
<rect x="685.7" y="117.8" width="5.20" height="5.20" fill="white" stroke="#86302e" stroke-width="0.85"/>
<line x1="724.5" y1="22.4" x2="724.5" y2="100.1" stroke="#8b3a3a" stroke-width="0.90"/>
<line x1="722.0" y1="22.4" x2="727.0" y2="22.4" stroke="#8b3a3a" stroke-width="0.90"/>
<line x1="722.0" y1="100.1" x2="727.0" y2="100.1" stroke="#8b3a3a" stroke-width="0.90"/>
<rect x="721.9" y="58.3" width="5.20" height="5.20" fill="white" stroke="#86302e" stroke-width="0.85"/>
<line x1="741.7" y1="84.0" x2="741.7" y2="186.0" stroke="#8b3a3a" stroke-width="0.90"/>
<line x1="739.2" y1="84.0" x2="744.2" y2="84.0" stroke="#8b3a3a" stroke-width="0.90"/>
<line x1="739.2" y1="186.0" x2="744.2" y2="186.0" stroke="#8b3a3a" stroke-width="0.90"/>
<rect x="739.1" y="125.9" width="5.20" height="5.20" fill="white" stroke="#86302e" stroke-width="0.85"/>
<line x1="760.3" y1="136.5" x2="760.3" y2="255.3" stroke="#8b3a3a" stroke-width="0.90"/>
<line x1="757.8" y1="136.5" x2="762.8" y2="136.5" stroke="#8b3a3a" stroke-width="0.90"/>
<line x1="757.8" y1="255.3" x2="762.8" y2="255.3" stroke="#8b3a3a" stroke-width="0.90"/>
<rect x="757.7" y="193.9" width="5.20" height="5.20" fill="white" stroke="#86302e" stroke-width="0.85"/>
<line x1="707.3" y1="174.0" x2="707.3" y2="222.0" stroke="#f0c7cf" stroke-width="0.80"/>
<line x1="705.8" y1="174.0" x2="708.8" y2="174.0" stroke="#f0c7cf" stroke-width="0.80"/>
<line x1="705.8" y1="222.0" x2="708.8" y2="222.0" stroke="#f0c7cf" stroke-width="0.80"/>
<polygon points="707.3,193.8 709.5,196.0 707.3,198.2 705.0,196.0" fill="white" stroke="#f0c0cc" stroke-width="0.80"/>
<line x1="724.3" y1="177.3" x2="724.3" y2="222.3" stroke="#f0c7cf" stroke-width="0.80"/>
<line x1="722.8" y1="177.3" x2="725.8" y2="177.3" stroke="#f0c7cf" stroke-width="0.80"/>
<line x1="722.8" y1="222.3" x2="725.8" y2="222.3" stroke="#f0c7cf" stroke-width="0.80"/>
<polygon points="724.3,195.1 726.5,197.3 724.3,199.6 722.0,197.3" fill="white" stroke="#f0c0cc" stroke-width="0.80"/>
<line x1="741.7" y1="127.2" x2="741.7" y2="207.2" stroke="#f0c7cf" stroke-width="0.80"/>
<line x1="740.2" y1="127.2" x2="743.2" y2="127.2" stroke="#f0c7cf" stroke-width="0.80"/>
<line x1="740.2" y1="207.2" x2="743.2" y2="207.2" stroke="#f0c7cf" stroke-width="0.80"/>
<polygon points="741.7,184.9 744.0,187.2 741.7,189.4 739.5,187.2" fill="white" stroke="#f0c0cc" stroke-width="0.80"/>
<line x1="760.3" y1="196.5" x2="760.3" y2="236.5" stroke="#f0c7cf" stroke-width="0.80"/>
<line x1="758.8" y1="196.5" x2="761.8" y2="196.5" stroke="#f0c7cf" stroke-width="0.80"/>
<line x1="758.8" y1="236.5" x2="761.8" y2="236.5" stroke="#f0c7cf" stroke-width="0.80"/>
<polygon points="760.3,212.2 762.5,214.5 760.3,216.8 758.0,214.5" fill="white" stroke="#f0c0cc" stroke-width="0.80"/>
<circle cx="458.1" cy="161.9" r="3.60" fill="#e81c1c" stroke="none" stroke-width="0.00"/>
<circle cx="469.5" cy="162.4" r="3.60" fill="#e81c1c" stroke="none" stroke-width="0.00"/>
<circle cx="481.0" cy="163.0" r="3.60" fill="#e81c1c" stroke="none" stroke-width="0.00"/>
<circle cx="493.2" cy="166.0" r="3.60" fill="#e81c1c" stroke="none" stroke-width="0.00"/>
<circle cx="505.4" cy="170.0" r="3.60" fill="#e81c1c" stroke="none" stroke-width="0.00"/>
<circle cx="517.0" cy="173.2" r="3.60" fill="#e81c1c" stroke="none" stroke-width="0.00"/>
<circle cx="528.9" cy="175.4" r="3.60" fill="#e81c1c" stroke="none" stroke-width="0.00"/>
<circle cx="540.5" cy="177.3" r="3.60" fill="#e81c1c" stroke="none" stroke-width="0.00"/>
<circle cx="552.7" cy="178.6" r="3.60" fill="#e81c1c" stroke="none" stroke-width="0.00"/>
<circle cx="564.9" cy="179.5" r="3.60" fill="#e81c1c" stroke="none" stroke-width="0.00"/>
<circle cx="576.5" cy="179.5" r="3.60" fill="#e81c1c" stroke="none" stroke-width="0.00"/>
<circle cx="588.4" cy="177.3" r="3.60" fill="#e81c1c" stroke="none" stroke-width="0.00"/>
<circle cx="600.0" cy="173.2" r="3.60" fill="#e81c1c" stroke="none" stroke-width="0.00"/>
<circle cx="612.1" cy="169.8" r="3.60" fill="#e81c1c" stroke="none" stroke-width="0.00"/>
<circle cx="623.5" cy="169.8" r="3.60" fill="#e81c1c" stroke="none" stroke-width="0.00"/>
<circle cx="635.6" cy="166.9" r="3.60" fill="#e81c1c" stroke="none" stroke-width="0.00"/>
<circle cx="647.8" cy="159.6" r="3.60" fill="#e81c1c" stroke="none" stroke-width="0.00"/>
<circle cx="659.5" cy="152.0" r="3.60" fill="#e81c1c" stroke="none" stroke-width="0.00"/>
<circle cx="671.7" cy="146.7" r="3.60" fill="#e81c1c" stroke="none" stroke-width="0.00"/>
<circle cx="683.0" cy="140.6" r="3.60" fill="#e81c1c" stroke="none" stroke-width="0.00"/>
<circle cx="695.1" cy="141.4" r="3.60" fill="#e81c1c" stroke="none" stroke-width="0.00"/>
<line x1="707.0" y1="140.7" x2="707.0" y2="160.7" stroke="#5a1a1a" stroke-width="0.90"/>
<line x1="705.8" y1="140.7" x2="708.2" y2="140.7" stroke="#5a1a1a" stroke-width="0.90"/>
<line x1="705.8" y1="160.7" x2="708.2" y2="160.7" stroke="#5a1a1a" stroke-width="0.90"/>
<rect x="703.8" y="147.5" width="6.40" height="6.40" fill="#e01818" stroke="none" stroke-width="0.00"/>
<line x1="718.2" y1="150.0" x2="718.2" y2="170.0" stroke="#5a1a1a" stroke-width="0.90"/>
<line x1="717.0" y1="150.0" x2="719.4" y2="150.0" stroke="#5a1a1a" stroke-width="0.90"/>
<line x1="717.0" y1="170.0" x2="719.4" y2="170.0" stroke="#5a1a1a" stroke-width="0.90"/>
<circle cx="718.2" cy="160.0" r="3.60" fill="#e81c1c" stroke="none" stroke-width="0.00"/>
<g stroke="#d80c1c" stroke-width="3.5" fill="none" stroke-linecap="round" stroke-linejoin="round">
<line x1="693.0" y1="170" x2="693.0" y2="215.2" stroke-linecap="butt"/>
<polyline points="687.6,177.3 693.0,168.0 698.4,177.3"/>
</g>
<text x="627.1" y="239.0" font-size="19.50" fill="#cc1424" text-anchor="start" font-weight="bold" stroke="#fff" stroke-width="0.35" paint-order="normal" textLength="134.7" lengthAdjust="spacingAndGlyphs">~34 TeV break</text>
<rect x="452.1" y="6.0" width="338.9" height="249.3" fill="none" stroke="#333" stroke-width="1.2"/>
<line x1="452.1" y1="244.1" x2="458.1" y2="244.1" stroke="#333" stroke-width="0.90"/>
<line x1="791.0" y1="244.1" x2="785.0" y2="244.1" stroke="#333" stroke-width="0.90"/>
<line x1="452.1" y1="232.8" x2="464.1" y2="232.8" stroke="#333" stroke-width="0.90"/>
<line x1="791.0" y1="232.8" x2="778.5" y2="232.8" stroke="#333" stroke-width="0.90"/>
<text x="449.3" y="236.4" font-size="10.40" fill="#2a2a2a" text-anchor="end" font-weight="normal"  textLength="15.8" lengthAdjust="spacingAndGlyphs" stroke="#2a2a2a" stroke-width="0.2">200</text>
<line x1="452.1" y1="221.5" x2="458.1" y2="221.5" stroke="#333" stroke-width="0.90"/>
<line x1="791.0" y1="221.5" x2="785.0" y2="221.5" stroke="#333" stroke-width="0.90"/>
<line x1="452.1" y1="210.1" x2="458.1" y2="210.1" stroke="#333" stroke-width="0.90"/>
<line x1="791.0" y1="210.1" x2="785.0" y2="210.1" stroke="#333" stroke-width="0.90"/>
<line x1="452.1" y1="198.8" x2="458.1" y2="198.8" stroke="#333" stroke-width="0.90"/>
<line x1="791.0" y1="198.8" x2="785.0" y2="198.8" stroke="#333" stroke-width="0.90"/>
<line x1="452.1" y1="187.4" x2="464.1" y2="187.4" stroke="#333" stroke-width="0.90"/>
<line x1="791.0" y1="187.4" x2="778.5" y2="187.4" stroke="#333" stroke-width="0.90"/>
<text x="449.3" y="191.0" font-size="10.40" fill="#2a2a2a" text-anchor="end" font-weight="normal"  textLength="15.8" lengthAdjust="spacingAndGlyphs" stroke="#2a2a2a" stroke-width="0.2">400</text>
<line x1="452.1" y1="176.1" x2="458.1" y2="176.1" stroke="#333" stroke-width="0.90"/>
<line x1="791.0" y1="176.1" x2="785.0" y2="176.1" stroke="#333" stroke-width="0.90"/>
<line x1="452.1" y1="164.8" x2="458.1" y2="164.8" stroke="#333" stroke-width="0.90"/>
<line x1="791.0" y1="164.8" x2="785.0" y2="164.8" stroke="#333" stroke-width="0.90"/>
<line x1="452.1" y1="153.4" x2="458.1" y2="153.4" stroke="#333" stroke-width="0.90"/>
<line x1="791.0" y1="153.4" x2="785.0" y2="153.4" stroke="#333" stroke-width="0.90"/>
<line x1="452.1" y1="142.1" x2="464.1" y2="142.1" stroke="#333" stroke-width="0.90"/>
<line x1="791.0" y1="142.1" x2="778.5" y2="142.1" stroke="#333" stroke-width="0.90"/>
<text x="449.3" y="145.7" font-size="10.40" fill="#2a2a2a" text-anchor="end" font-weight="normal"  textLength="15.8" lengthAdjust="spacingAndGlyphs" stroke="#2a2a2a" stroke-width="0.2">600</text>
<line x1="452.1" y1="130.7" x2="458.1" y2="130.7" stroke="#333" stroke-width="0.90"/>
<line x1="791.0" y1="130.7" x2="785.0" y2="130.7" stroke="#333" stroke-width="0.90"/>
<line x1="452.1" y1="119.4" x2="458.1" y2="119.4" stroke="#333" stroke-width="0.90"/>
<line x1="791.0" y1="119.4" x2="785.0" y2="119.4" stroke="#333" stroke-width="0.90"/>
<line x1="452.1" y1="108.1" x2="458.1" y2="108.1" stroke="#333" stroke-width="0.90"/>
<line x1="791.0" y1="108.1" x2="785.0" y2="108.1" stroke="#333" stroke-width="0.90"/>
<line x1="452.1" y1="96.7" x2="464.1" y2="96.7" stroke="#333" stroke-width="0.90"/>
<line x1="791.0" y1="96.7" x2="778.5" y2="96.7" stroke="#333" stroke-width="0.90"/>
<text x="449.3" y="100.3" font-size="10.40" fill="#2a2a2a" text-anchor="end" font-weight="normal"  textLength="15.8" lengthAdjust="spacingAndGlyphs" stroke="#2a2a2a" stroke-width="0.2">800</text>
<line x1="452.1" y1="85.4" x2="458.1" y2="85.4" stroke="#333" stroke-width="0.90"/>
<line x1="791.0" y1="85.4" x2="785.0" y2="85.4" stroke="#333" stroke-width="0.90"/>
<line x1="452.1" y1="74.0" x2="458.1" y2="74.0" stroke="#333" stroke-width="0.90"/>
<line x1="791.0" y1="74.0" x2="785.0" y2="74.0" stroke="#333" stroke-width="0.90"/>
<line x1="452.1" y1="62.7" x2="458.1" y2="62.7" stroke="#333" stroke-width="0.90"/>
<line x1="791.0" y1="62.7" x2="785.0" y2="62.7" stroke="#333" stroke-width="0.90"/>
<line x1="452.1" y1="51.4" x2="464.1" y2="51.4" stroke="#333" stroke-width="0.90"/>
<line x1="791.0" y1="51.4" x2="778.5" y2="51.4" stroke="#333" stroke-width="0.90"/>
<text x="449.3" y="55.0" font-size="10.40" fill="#2a2a2a" text-anchor="end" font-weight="normal"  textLength="21.0" lengthAdjust="spacingAndGlyphs" stroke="#2a2a2a" stroke-width="0.2">1000</text>
<line x1="452.1" y1="40.0" x2="458.1" y2="40.0" stroke="#333" stroke-width="0.90"/>
<line x1="791.0" y1="40.0" x2="785.0" y2="40.0" stroke="#333" stroke-width="0.90"/>
<line x1="452.1" y1="28.7" x2="458.1" y2="28.7" stroke="#333" stroke-width="0.90"/>
<line x1="791.0" y1="28.7" x2="785.0" y2="28.7" stroke="#333" stroke-width="0.90"/>
<line x1="452.1" y1="17.3" x2="458.1" y2="17.3" stroke="#333" stroke-width="0.90"/>
<line x1="791.0" y1="17.3" x2="785.0" y2="17.3" stroke="#333" stroke-width="0.90"/>
<line x1="452.1" y1="6.0" x2="464.1" y2="6.0" stroke="#333" stroke-width="0.90"/>
<line x1="791.0" y1="6.0" x2="778.5" y2="6.0" stroke="#333" stroke-width="0.90"/>
<text x="449.3" y="9.6" font-size="10.40" fill="#2a2a2a" text-anchor="end" font-weight="normal"  textLength="21.0" lengthAdjust="spacingAndGlyphs" stroke="#2a2a2a" stroke-width="0.2">1200</text>
<line x1="456.9" y1="255.3" x2="456.9" y2="252.1" stroke="#333" stroke-width="0.90"/>
<line x1="456.9" y1="6.0" x2="456.9" y2="9.2" stroke="#333" stroke-width="0.90"/>
<line x1="472.7" y1="255.3" x2="472.7" y2="252.1" stroke="#333" stroke-width="0.90"/>
<line x1="472.7" y1="6.0" x2="472.7" y2="9.2" stroke="#333" stroke-width="0.90"/>
<line x1="483.9" y1="255.3" x2="483.9" y2="252.1" stroke="#333" stroke-width="0.90"/>
<line x1="483.9" y1="6.0" x2="483.9" y2="9.2" stroke="#333" stroke-width="0.90"/>
<line x1="492.6" y1="255.3" x2="492.6" y2="252.1" stroke="#333" stroke-width="0.90"/>
<line x1="492.6" y1="6.0" x2="492.6" y2="9.2" stroke="#333" stroke-width="0.90"/>
<line x1="499.6" y1="255.3" x2="499.6" y2="252.1" stroke="#333" stroke-width="0.90"/>
<line x1="499.6" y1="6.0" x2="499.6" y2="9.2" stroke="#333" stroke-width="0.90"/>
<line x1="505.6" y1="255.3" x2="505.6" y2="252.1" stroke="#333" stroke-width="0.90"/>
<line x1="505.6" y1="6.0" x2="505.6" y2="9.2" stroke="#333" stroke-width="0.90"/>
<line x1="510.8" y1="255.3" x2="510.8" y2="252.1" stroke="#333" stroke-width="0.90"/>
<line x1="510.8" y1="6.0" x2="510.8" y2="9.2" stroke="#333" stroke-width="0.90"/>
<line x1="515.4" y1="255.3" x2="515.4" y2="252.1" stroke="#333" stroke-width="0.90"/>
<line x1="515.4" y1="6.0" x2="515.4" y2="9.2" stroke="#333" stroke-width="0.90"/>
<line x1="519.5" y1="255.3" x2="519.5" y2="250.3" stroke="#333" stroke-width="0.90"/>
<line x1="519.5" y1="6.0" x2="519.5" y2="11.0" stroke="#333" stroke-width="0.90"/>
<line x1="546.4" y1="255.3" x2="546.4" y2="252.1" stroke="#333" stroke-width="0.90"/>
<line x1="546.4" y1="6.0" x2="546.4" y2="9.2" stroke="#333" stroke-width="0.90"/>
<line x1="562.2" y1="255.3" x2="562.2" y2="252.1" stroke="#333" stroke-width="0.90"/>
<line x1="562.2" y1="6.0" x2="562.2" y2="9.2" stroke="#333" stroke-width="0.90"/>
<line x1="573.4" y1="255.3" x2="573.4" y2="252.1" stroke="#333" stroke-width="0.90"/>
<line x1="573.4" y1="6.0" x2="573.4" y2="9.2" stroke="#333" stroke-width="0.90"/>
<line x1="582.1" y1="255.3" x2="582.1" y2="252.1" stroke="#333" stroke-width="0.90"/>
<line x1="582.1" y1="6.0" x2="582.1" y2="9.2" stroke="#333" stroke-width="0.90"/>
<line x1="589.1" y1="255.3" x2="589.1" y2="252.1" stroke="#333" stroke-width="0.90"/>
<line x1="589.1" y1="6.0" x2="589.1" y2="9.2" stroke="#333" stroke-width="0.90"/>
<line x1="595.1" y1="255.3" x2="595.1" y2="252.1" stroke="#333" stroke-width="0.90"/>
<line x1="595.1" y1="6.0" x2="595.1" y2="9.2" stroke="#333" stroke-width="0.90"/>
<line x1="600.3" y1="255.3" x2="600.3" y2="252.1" stroke="#333" stroke-width="0.90"/>
<line x1="600.3" y1="6.0" x2="600.3" y2="9.2" stroke="#333" stroke-width="0.90"/>
<line x1="604.9" y1="255.3" x2="604.9" y2="252.1" stroke="#333" stroke-width="0.90"/>
<line x1="604.9" y1="6.0" x2="604.9" y2="9.2" stroke="#333" stroke-width="0.90"/>
<line x1="609.0" y1="255.3" x2="609.0" y2="250.3" stroke="#333" stroke-width="0.90"/>
<line x1="609.0" y1="6.0" x2="609.0" y2="11.0" stroke="#333" stroke-width="0.90"/>
<line x1="635.9" y1="255.3" x2="635.9" y2="252.1" stroke="#333" stroke-width="0.90"/>
<line x1="635.9" y1="6.0" x2="635.9" y2="9.2" stroke="#333" stroke-width="0.90"/>
<line x1="651.7" y1="255.3" x2="651.7" y2="252.1" stroke="#333" stroke-width="0.90"/>
<line x1="651.7" y1="6.0" x2="651.7" y2="9.2" stroke="#333" stroke-width="0.90"/>
<line x1="662.9" y1="255.3" x2="662.9" y2="252.1" stroke="#333" stroke-width="0.90"/>
<line x1="662.9" y1="6.0" x2="662.9" y2="9.2" stroke="#333" stroke-width="0.90"/>
<line x1="671.6" y1="255.3" x2="671.6" y2="252.1" stroke="#333" stroke-width="0.90"/>
<line x1="671.6" y1="6.0" x2="671.6" y2="9.2" stroke="#333" stroke-width="0.90"/>
<line x1="678.6" y1="255.3" x2="678.6" y2="252.1" stroke="#333" stroke-width="0.90"/>
<line x1="678.6" y1="6.0" x2="678.6" y2="9.2" stroke="#333" stroke-width="0.90"/>
<line x1="684.6" y1="255.3" x2="684.6" y2="252.1" stroke="#333" stroke-width="0.90"/>
<line x1="684.6" y1="6.0" x2="684.6" y2="9.2" stroke="#333" stroke-width="0.90"/>
<line x1="689.8" y1="255.3" x2="689.8" y2="252.1" stroke="#333" stroke-width="0.90"/>
<line x1="689.8" y1="6.0" x2="689.8" y2="9.2" stroke="#333" stroke-width="0.90"/>
<line x1="694.4" y1="255.3" x2="694.4" y2="252.1" stroke="#333" stroke-width="0.90"/>
<line x1="694.4" y1="6.0" x2="694.4" y2="9.2" stroke="#333" stroke-width="0.90"/>
<line x1="698.5" y1="255.3" x2="698.5" y2="250.3" stroke="#333" stroke-width="0.90"/>
<line x1="698.5" y1="6.0" x2="698.5" y2="11.0" stroke="#333" stroke-width="0.90"/>
<line x1="725.4" y1="255.3" x2="725.4" y2="252.1" stroke="#333" stroke-width="0.90"/>
<line x1="725.4" y1="6.0" x2="725.4" y2="9.2" stroke="#333" stroke-width="0.90"/>
<line x1="741.2" y1="255.3" x2="741.2" y2="252.1" stroke="#333" stroke-width="0.90"/>
<line x1="741.2" y1="6.0" x2="741.2" y2="9.2" stroke="#333" stroke-width="0.90"/>
<line x1="752.4" y1="255.3" x2="752.4" y2="252.1" stroke="#333" stroke-width="0.90"/>
<line x1="752.4" y1="6.0" x2="752.4" y2="9.2" stroke="#333" stroke-width="0.90"/>
<line x1="761.1" y1="255.3" x2="761.1" y2="252.1" stroke="#333" stroke-width="0.90"/>
<line x1="761.1" y1="6.0" x2="761.1" y2="9.2" stroke="#333" stroke-width="0.90"/>
<line x1="768.1" y1="255.3" x2="768.1" y2="252.1" stroke="#333" stroke-width="0.90"/>
<line x1="768.1" y1="6.0" x2="768.1" y2="9.2" stroke="#333" stroke-width="0.90"/>
<line x1="774.1" y1="255.3" x2="774.1" y2="252.1" stroke="#333" stroke-width="0.90"/>
<line x1="774.1" y1="6.0" x2="774.1" y2="9.2" stroke="#333" stroke-width="0.90"/>
<line x1="779.3" y1="255.3" x2="779.3" y2="252.1" stroke="#333" stroke-width="0.90"/>
<line x1="779.3" y1="6.0" x2="779.3" y2="9.2" stroke="#333" stroke-width="0.90"/>
<line x1="783.9" y1="255.3" x2="783.9" y2="252.1" stroke="#333" stroke-width="0.90"/>
<line x1="783.9" y1="6.0" x2="783.9" y2="9.2" stroke="#333" stroke-width="0.90"/>
<line x1="788.0" y1="255.3" x2="788.0" y2="250.3" stroke="#333" stroke-width="0.90"/>
<line x1="788.0" y1="6.0" x2="788.0" y2="11.0" stroke="#333" stroke-width="0.90"/>
<text x="517.5" y="267.5" font-size="8.80" fill="#2a2a2a" text-anchor="middle" font-weight="normal"  stroke="#2a2a2a" stroke-width="0.2">10</text>
<text x="522.1" y="262.7" font-size="5.80" fill="#2a2a2a" text-anchor="start" font-weight="normal"  stroke="#2a2a2a" stroke-width="0.2">2</text>
<text x="607.0" y="267.5" font-size="8.80" fill="#2a2a2a" text-anchor="middle" font-weight="normal"  stroke="#2a2a2a" stroke-width="0.2">10</text>
<text x="611.6" y="262.7" font-size="5.80" fill="#2a2a2a" text-anchor="start" font-weight="normal"  stroke="#2a2a2a" stroke-width="0.2">3</text>
<text x="696.5" y="267.5" font-size="8.80" fill="#2a2a2a" text-anchor="middle" font-weight="normal"  stroke="#2a2a2a" stroke-width="0.2">10</text>
<text x="701.1" y="262.7" font-size="5.80" fill="#2a2a2a" text-anchor="start" font-weight="normal"  stroke="#2a2a2a" stroke-width="0.2">4</text>
<text x="786.0" y="267.5" font-size="8.80" fill="#2a2a2a" text-anchor="middle" font-weight="normal"  stroke="#2a2a2a" stroke-width="0.2">10</text>
<text x="790.6" y="262.7" font-size="5.80" fill="#2a2a2a" text-anchor="start" font-weight="normal"  stroke="#2a2a2a" stroke-width="0.2">5</text>
<text x="671.4" y="278.6" font-size="10.70" fill="#333" text-anchor="start" font-weight="normal"  textLength="119.5" lengthAdjust="spacingAndGlyphs" stroke="#333" stroke-width="0.2">Kinetic energy [GeV/n]</text>
<text transform="translate(417.0,175.4) rotate(-90)" font-size="11.2" fill="#2a2a2a" stroke="#2a2a2a" stroke-width="0.2" textLength="171" lengthAdjust="spacingAndGlyphs">E<tspan font-size="7.2" dy="3.2">k</tspan><tspan font-size="7.2" dx="-6.2" dy="-10.6">2.6</tspan><tspan dy="7.4"> &#215; Flux [m</tspan><tspan font-size="7.2" dy="-4.5">-2</tspan><tspan dy="4.5"> s</tspan><tspan font-size="7.2" dy="-4.5">-1</tspan><tspan dy="4.5"> sr</tspan><tspan font-size="7.2" dy="-4.5">-1</tspan><tspan dy="4.5"> (GeV/n)</tspan><tspan font-size="7.2" dy="-4.5">1.6</tspan><tspan dy="4.5">]</tspan></text>
<text x="462.5" y="25.0" font-size="8.50" fill="#333" text-anchor="start" font-weight="normal"  stroke="#333" stroke-width="0.2">(b)</text>
<line x1="481.0" y1="26.0" x2="512.0" y2="26.0" stroke="#f5c48f" stroke-width="1.30"/>
<circle cx="497.0" cy="26.0" r="3.00" fill="#f8d4a8" stroke="#f0b070" stroke-width="0.70"/>
<text x="519.0" y="29.1" font-size="9.60" fill="#2a2a2a" text-anchor="start" font-weight="normal" stroke="#2a2a2a" stroke-width="0.08" textLength="59.6" lengthAdjust="spacingAndGlyphs">ATIC-2 (2009)</text>
<line x1="481.0" y1="39.0" x2="512.0" y2="39.0" stroke="#8c8cd0" stroke-width="1.30"/>
<polygon points="497.0,35.2 497.9,37.7 500.6,37.8 498.5,39.5 499.2,42.1 497.0,40.6 494.8,42.1 495.5,39.5 493.4,37.8 496.1,37.7" fill="none" stroke="#4a4ab0" stroke-width="1.00"/>
<text x="519.0" y="42.1" font-size="9.60" fill="#2a2a2a" text-anchor="start" font-weight="normal" stroke="#2a2a2a" stroke-width="0.08" textLength="68.6" lengthAdjust="spacingAndGlyphs">PAMELA (2011)</text>
<line x1="481.0" y1="52.0" x2="512.0" y2="52.0" stroke="#1a1a1a" stroke-width="1.30"/>
<polygon points="497.0,49.7 499.3,52.0 497.0,54.3 494.7,52.0" fill="#111" stroke="#111" stroke-width="0.30"/>
<text x="519.0" y="55.1" font-size="9.60" fill="#2a2a2a" text-anchor="start" font-weight="normal" stroke="#2a2a2a" stroke-width="0.08" textLength="63.6" lengthAdjust="spacingAndGlyphs">AMS-02 (2017)</text>
<line x1="481.0" y1="65.0" x2="512.0" y2="65.0" stroke="#f3cdd6" stroke-width="1.30"/>
<polygon points="497.0,62.0 500.0,65.0 497.0,68.0 494.0,65.0" fill="#f3d3dc" stroke="#efc4cf" stroke-width="0.60"/>
<text x="519.0" y="68.1" font-size="9.60" fill="#2a2a2a" text-anchor="start" font-weight="normal" stroke="#2a2a2a" stroke-width="0.08" textLength="75.6" lengthAdjust="spacingAndGlyphs">CREAM-III (2017)</text>
<line x1="481.0" y1="78.0" x2="512.0" y2="78.0" stroke="#c08c8c" stroke-width="1.30"/>
<rect x="494.3" y="75.3" width="5.40" height="5.40" fill="white" stroke="#86302e" stroke-width="0.90"/>
<text x="519.0" y="81.1" font-size="9.60" fill="#2a2a2a" text-anchor="start" font-weight="normal" stroke="#2a2a2a" stroke-width="0.08" textLength="104.6" lengthAdjust="spacingAndGlyphs">NUCLEON (KLEM;2017)</text>
<line x1="481.0" y1="91.0" x2="512.0" y2="91.0" stroke="#ee5a5a" stroke-width="1.30"/>
<circle cx="497.0" cy="91.0" r="3.60" fill="#e41a1a" stroke="none" stroke-width="0.00"/>
<text x="519.0" y="94.1" font-size="9.60" fill="#2a2a2a" text-anchor="start" font-weight="normal" stroke="#2a2a2a" stroke-width="0.08" textLength="79.6" lengthAdjust="spacingAndGlyphs">DAMPE (this work)</text>
<text x="702.0" y="290.0" font-size="8.40" fill="#f2c4c4" text-anchor="start" font-weight="normal"  textLength="83.5" lengthAdjust="spacingAndGlyphs">SCIENCEAQ.COM</text>
</svg></body></html>
